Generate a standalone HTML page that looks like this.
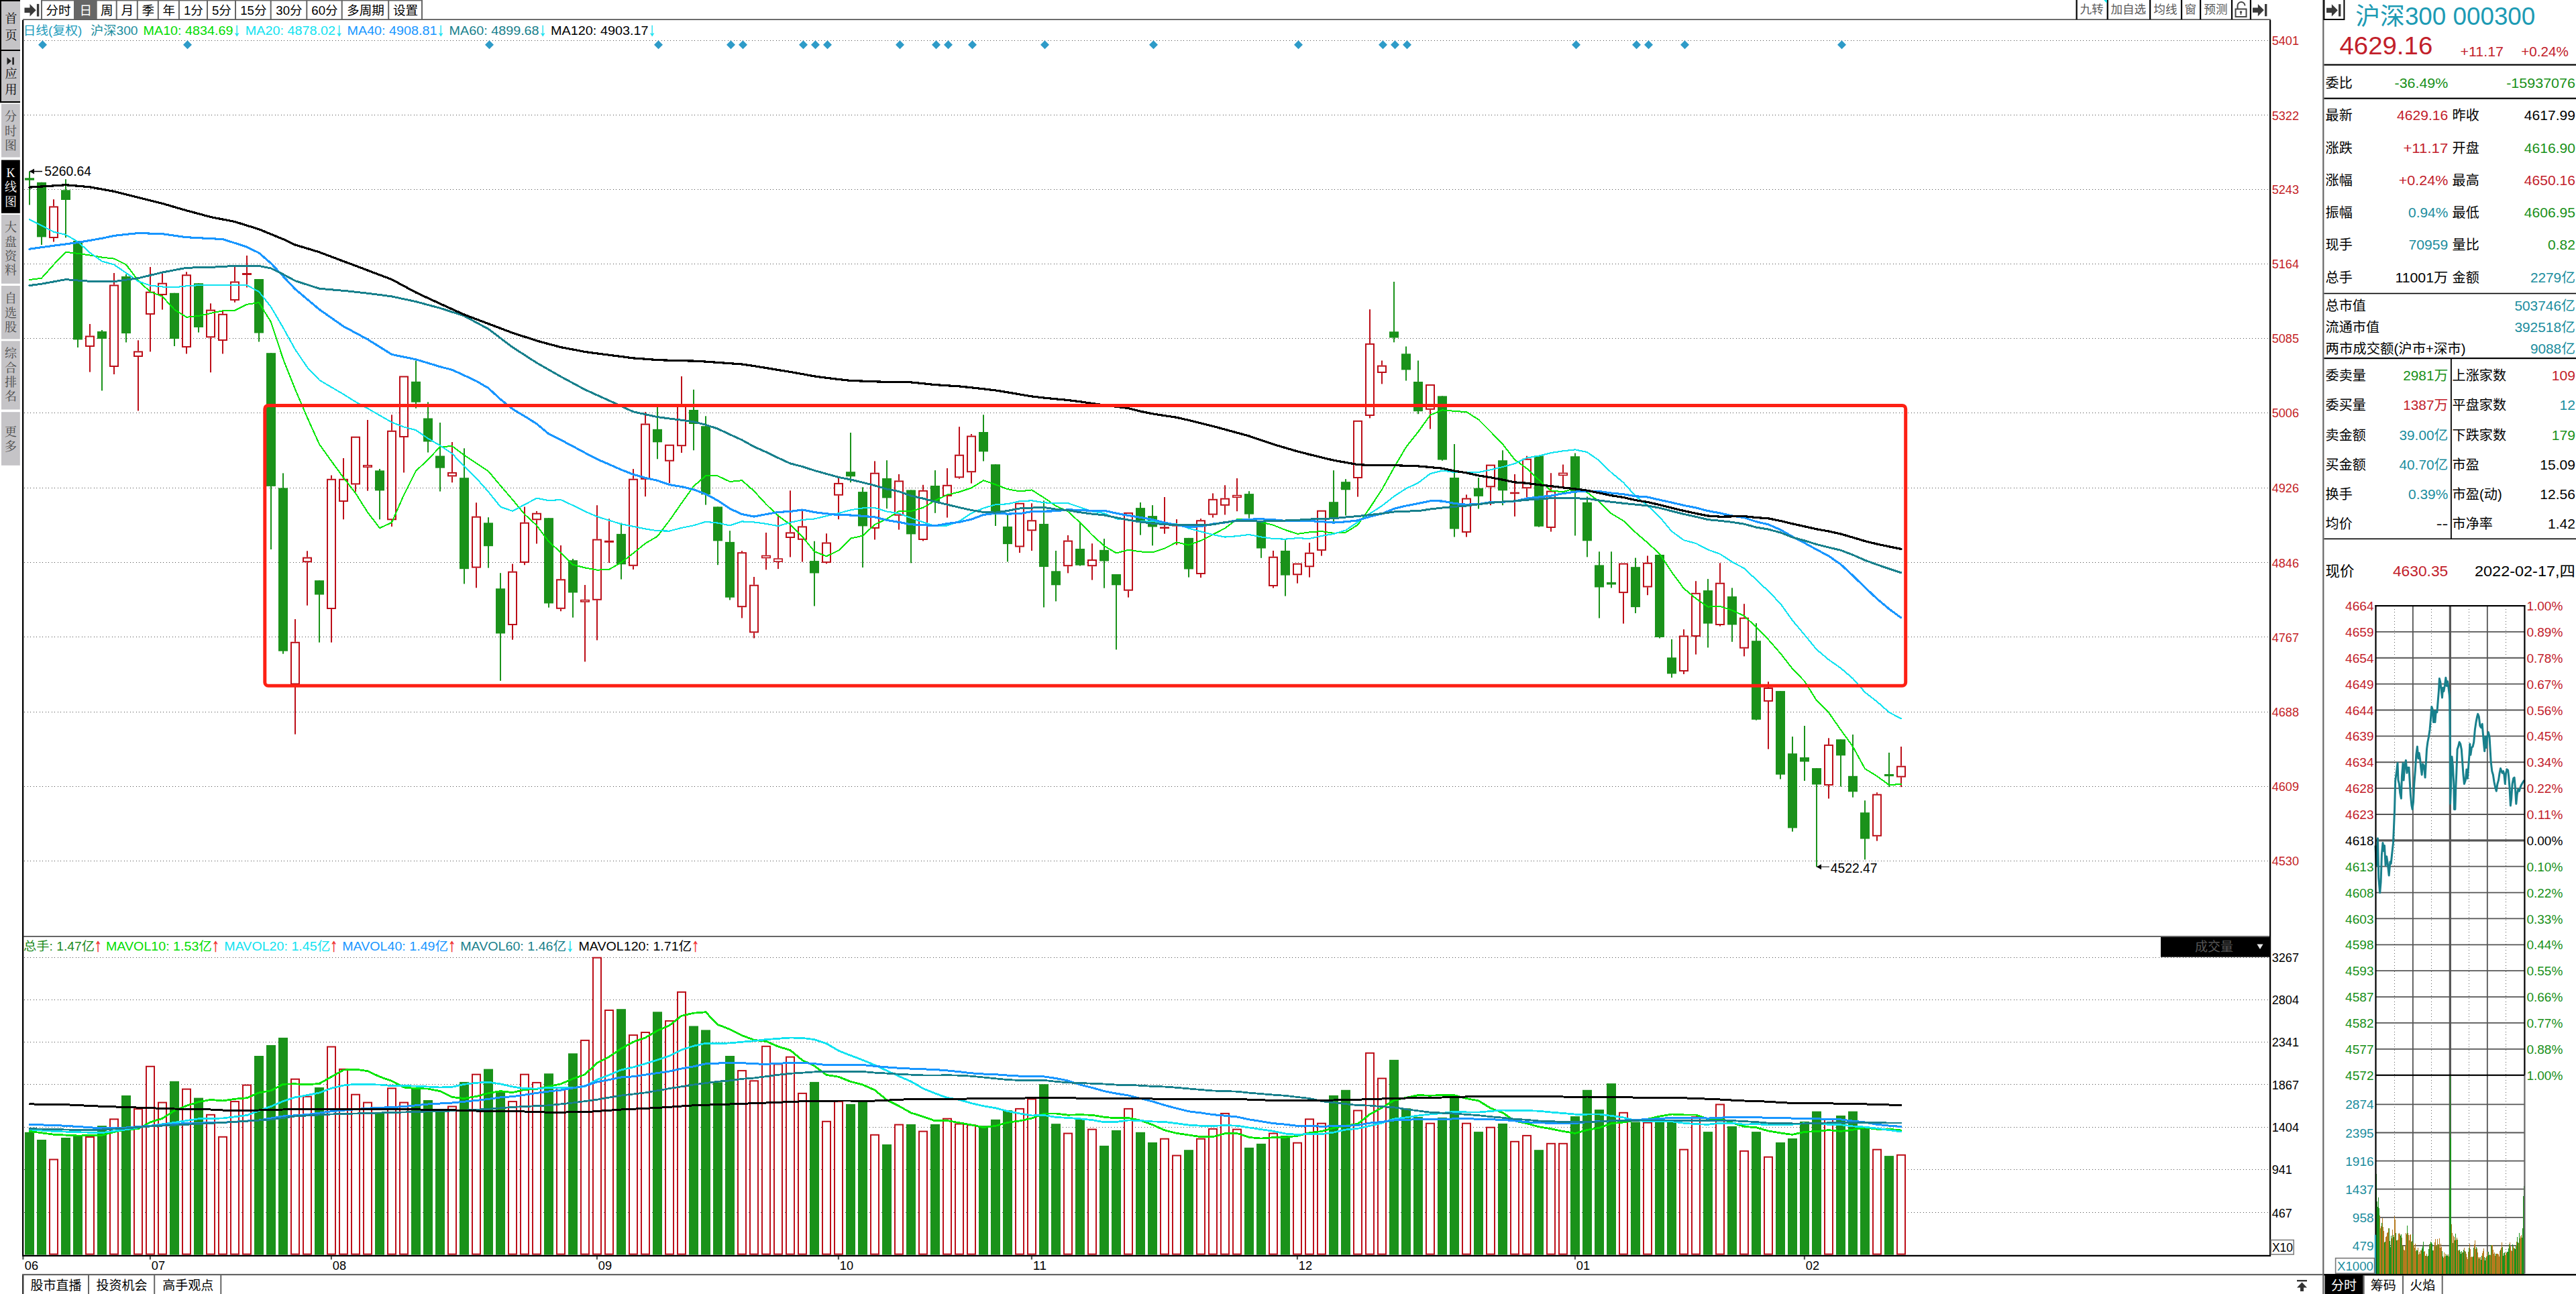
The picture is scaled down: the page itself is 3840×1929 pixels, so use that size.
<!DOCTYPE html><html><head><meta charset="utf-8"><title>沪深300</title><style>html,body{margin:0;padding:0;background:#fff}svg{display:block}</style></head><body><svg width="3840" height="1929" viewBox="0 0 3840 1929" font-family='"Liberation Sans","Noto Sans CJK SC",sans-serif'>
<rect x="0.00" y="0.00" width="3840.00" height="1929.00" fill="#fff" />
<line x1="36.00" y1="60.50" x2="3382.00" y2="60.50" stroke="#4c4c4c" stroke-width="1" stroke-dasharray="1 3.5" shape-rendering="crispEdges"/>
<text x="3386.7" y="67.4" font-size="18" fill="#c41e25" text-anchor="start" textLength="40.3" lengthAdjust="spacingAndGlyphs" >5401</text>
<line x1="36.00" y1="171.50" x2="3382.00" y2="171.50" stroke="#4c4c4c" stroke-width="1" stroke-dasharray="1 3.5" shape-rendering="crispEdges"/>
<text x="3386.7" y="178.5" font-size="18" fill="#c41e25" text-anchor="start" textLength="40.3" lengthAdjust="spacingAndGlyphs" >5322</text>
<line x1="36.00" y1="282.50" x2="3382.00" y2="282.50" stroke="#4c4c4c" stroke-width="1" stroke-dasharray="1 3.5" shape-rendering="crispEdges"/>
<text x="3386.7" y="289.3" font-size="18" fill="#c41e25" text-anchor="start" textLength="40.3" lengthAdjust="spacingAndGlyphs" >5243</text>
<line x1="36.00" y1="393.50" x2="3382.00" y2="393.50" stroke="#4c4c4c" stroke-width="1" stroke-dasharray="1 3.5" shape-rendering="crispEdges"/>
<text x="3386.7" y="400.3" font-size="18" fill="#c41e25" text-anchor="start" textLength="40.3" lengthAdjust="spacingAndGlyphs" >5164</text>
<line x1="36.00" y1="504.50" x2="3382.00" y2="504.50" stroke="#4c4c4c" stroke-width="1" stroke-dasharray="1 3.5" shape-rendering="crispEdges"/>
<text x="3386.7" y="511.2" font-size="18" fill="#c41e25" text-anchor="start" textLength="40.3" lengthAdjust="spacingAndGlyphs" >5085</text>
<line x1="36.00" y1="615.50" x2="3382.00" y2="615.50" stroke="#4c4c4c" stroke-width="1" stroke-dasharray="1 3.5" shape-rendering="crispEdges"/>
<text x="3386.7" y="622.2" font-size="18" fill="#c41e25" text-anchor="start" textLength="40.3" lengthAdjust="spacingAndGlyphs" >5006</text>
<line x1="36.00" y1="727.50" x2="3382.00" y2="727.50" stroke="#4c4c4c" stroke-width="1" stroke-dasharray="1 3.5" shape-rendering="crispEdges"/>
<text x="3386.7" y="734.3" font-size="18" fill="#c41e25" text-anchor="start" textLength="40.3" lengthAdjust="spacingAndGlyphs" >4926</text>
<line x1="36.00" y1="838.50" x2="3382.00" y2="838.50" stroke="#4c4c4c" stroke-width="1" stroke-dasharray="1 3.5" shape-rendering="crispEdges"/>
<text x="3386.7" y="845.7" font-size="18" fill="#c41e25" text-anchor="start" textLength="40.3" lengthAdjust="spacingAndGlyphs" >4846</text>
<line x1="36.00" y1="949.50" x2="3382.00" y2="949.50" stroke="#4c4c4c" stroke-width="1" stroke-dasharray="1 3.5" shape-rendering="crispEdges"/>
<text x="3386.7" y="956.9" font-size="18" fill="#c41e25" text-anchor="start" textLength="40.3" lengthAdjust="spacingAndGlyphs" >4767</text>
<line x1="36.00" y1="1061.50" x2="3382.00" y2="1061.50" stroke="#4c4c4c" stroke-width="1" stroke-dasharray="1 3.5" shape-rendering="crispEdges"/>
<text x="3386.7" y="1068.1" font-size="18" fill="#c41e25" text-anchor="start" textLength="40.3" lengthAdjust="spacingAndGlyphs" >4688</text>
<line x1="36.00" y1="1172.50" x2="3382.00" y2="1172.50" stroke="#4c4c4c" stroke-width="1" stroke-dasharray="1 3.5" shape-rendering="crispEdges"/>
<text x="3386.7" y="1179.3" font-size="18" fill="#c41e25" text-anchor="start" textLength="40.3" lengthAdjust="spacingAndGlyphs" >4609</text>
<line x1="36.00" y1="1283.50" x2="3382.00" y2="1283.50" stroke="#4c4c4c" stroke-width="1" stroke-dasharray="1 3.5" shape-rendering="crispEdges"/>
<text x="3386.7" y="1290.2" font-size="18" fill="#c41e25" text-anchor="start" textLength="40.3" lengthAdjust="spacingAndGlyphs" >4530</text>
<line x1="36.00" y1="1427.50" x2="3382.00" y2="1427.50" stroke="#4c4c4c" stroke-width="1" stroke-dasharray="1 3.5" shape-rendering="crispEdges"/>
<text x="3386.7" y="1434.1" font-size="18" fill="#000" text-anchor="start" textLength="40.3" lengthAdjust="spacingAndGlyphs" >3267</text>
<line x1="36.00" y1="1490.50" x2="3382.00" y2="1490.50" stroke="#4c4c4c" stroke-width="1" stroke-dasharray="1 3.5" shape-rendering="crispEdges"/>
<text x="3386.7" y="1497.2" font-size="18" fill="#000" text-anchor="start" textLength="40.3" lengthAdjust="spacingAndGlyphs" >2804</text>
<line x1="36.00" y1="1553.50" x2="3382.00" y2="1553.50" stroke="#4c4c4c" stroke-width="1" stroke-dasharray="1 3.5" shape-rendering="crispEdges"/>
<text x="3386.7" y="1560.4" font-size="18" fill="#000" text-anchor="start" textLength="40.3" lengthAdjust="spacingAndGlyphs" >2341</text>
<line x1="36.00" y1="1616.50" x2="3382.00" y2="1616.50" stroke="#4c4c4c" stroke-width="1" stroke-dasharray="1 3.5" shape-rendering="crispEdges"/>
<text x="3386.7" y="1623.7" font-size="18" fill="#000" text-anchor="start" textLength="40.3" lengthAdjust="spacingAndGlyphs" >1867</text>
<line x1="36.00" y1="1680.50" x2="3382.00" y2="1680.50" stroke="#4c4c4c" stroke-width="1" stroke-dasharray="1 3.5" shape-rendering="crispEdges"/>
<text x="3386.7" y="1687.0" font-size="18" fill="#000" text-anchor="start" textLength="40.3" lengthAdjust="spacingAndGlyphs" >1404</text>
<line x1="36.00" y1="1743.50" x2="3382.00" y2="1743.50" stroke="#4c4c4c" stroke-width="1" stroke-dasharray="1 3.5" shape-rendering="crispEdges"/>
<text x="3386.7" y="1750.2" font-size="18" fill="#000" text-anchor="start" textLength="30.2" lengthAdjust="spacingAndGlyphs" >941</text>
<line x1="36.00" y1="1807.50" x2="3382.00" y2="1807.50" stroke="#4c4c4c" stroke-width="1" stroke-dasharray="1 3.5" shape-rendering="crispEdges"/>
<text x="3386.7" y="1814.5" font-size="18" fill="#000" text-anchor="start" textLength="30.2" lengthAdjust="spacingAndGlyphs" >467</text>
<path d="M57.0 66.7L63.5 60.2L70.0 66.7L63.5 73.2Z" fill="#2e9bc8"/>
<path d="M273.0 66.7L279.5 60.2L286.0 66.7L279.5 73.2Z" fill="#2e9bc8"/>
<path d="M723.0 66.7L729.5 60.2L736.0 66.7L729.5 73.2Z" fill="#2e9bc8"/>
<path d="M975.0 66.7L981.5 60.2L988.0 66.7L981.5 73.2Z" fill="#2e9bc8"/>
<path d="M1083.0 66.7L1089.5 60.2L1096.0 66.7L1089.5 73.2Z" fill="#2e9bc8"/>
<path d="M1101.0 66.7L1107.5 60.2L1114.0 66.7L1107.5 73.2Z" fill="#2e9bc8"/>
<path d="M1191.0 66.7L1197.5 60.2L1204.0 66.7L1197.5 73.2Z" fill="#2e9bc8"/>
<path d="M1209.0 66.7L1215.5 60.2L1222.0 66.7L1215.5 73.2Z" fill="#2e9bc8"/>
<path d="M1227.0 66.7L1233.5 60.2L1240.0 66.7L1233.5 73.2Z" fill="#2e9bc8"/>
<path d="M1335.0 66.7L1341.5 60.2L1348.0 66.7L1341.5 73.2Z" fill="#2e9bc8"/>
<path d="M1389.0 66.7L1395.5 60.2L1402.0 66.7L1395.5 73.2Z" fill="#2e9bc8"/>
<path d="M1407.0 66.7L1413.5 60.2L1420.0 66.7L1413.5 73.2Z" fill="#2e9bc8"/>
<path d="M1443.0 66.7L1449.5 60.2L1456.0 66.7L1449.5 73.2Z" fill="#2e9bc8"/>
<path d="M1551.0 66.7L1557.5 60.2L1564.0 66.7L1557.5 73.2Z" fill="#2e9bc8"/>
<path d="M1713.0 66.7L1719.5 60.2L1726.0 66.7L1719.5 73.2Z" fill="#2e9bc8"/>
<path d="M1929.0 66.7L1935.5 60.2L1942.0 66.7L1935.5 73.2Z" fill="#2e9bc8"/>
<path d="M2055.0 66.7L2061.5 60.2L2068.0 66.7L2061.5 73.2Z" fill="#2e9bc8"/>
<path d="M2073.0 66.7L2079.5 60.2L2086.0 66.7L2079.5 73.2Z" fill="#2e9bc8"/>
<path d="M2091.0 66.7L2097.5 60.2L2104.0 66.7L2097.5 73.2Z" fill="#2e9bc8"/>
<path d="M2343.0 66.7L2349.5 60.2L2356.0 66.7L2349.5 73.2Z" fill="#2e9bc8"/>
<path d="M2433.0 66.7L2439.5 60.2L2446.0 66.7L2439.5 73.2Z" fill="#2e9bc8"/>
<path d="M2451.0 66.7L2457.5 60.2L2464.0 66.7L2457.5 73.2Z" fill="#2e9bc8"/>
<path d="M2505.0 66.7L2511.5 60.2L2518.0 66.7L2511.5 73.2Z" fill="#2e9bc8"/>
<path d="M2739.0 66.7L2745.5 60.2L2752.0 66.7L2745.5 73.2Z" fill="#2e9bc8"/>
<rect x="43.00" y="255.50" width="2.00" height="50.00" fill="#1a921a" />
<rect x="37.00" y="265.30" width="14.00" height="3.40" fill="#1a921a" />
<rect x="61.00" y="271.80" width="2.00" height="93.20" fill="#1a921a" />
<rect x="55.00" y="271.80" width="14.00" height="81.60" fill="#1a921a" />
<rect x="79.00" y="297.20" width="2.00" height="10.20" fill="#bc0e18" />
<rect x="79.00" y="355.00" width="2.00" height="5.50" fill="#bc0e18" />
<rect x="74.0" y="308.4" width="12" height="45.6" fill="#fff" stroke="#bc0e18" stroke-width="2"/>
<rect x="97.00" y="267.20" width="2.00" height="87.10" fill="#1a921a" />
<rect x="91.00" y="283.30" width="14.00" height="14.70" fill="#1a921a" />
<rect x="115.00" y="359.00" width="2.00" height="159.00" fill="#1a921a" />
<rect x="109.00" y="359.00" width="14.00" height="147.40" fill="#1a921a" />
<rect x="133.00" y="483.00" width="2.00" height="17.50" fill="#bc0e18" />
<rect x="133.00" y="517.00" width="2.00" height="37.60" fill="#bc0e18" />
<rect x="128.0" y="501.5" width="12" height="14.5" fill="#fff" stroke="#bc0e18" stroke-width="2"/>
<rect x="151.00" y="492.00" width="2.00" height="90.40" fill="#1a921a" />
<rect x="145.00" y="494.00" width="14.00" height="11.00" fill="#1a921a" />
<rect x="169.00" y="407.00" width="2.00" height="17.50" fill="#bc0e18" />
<rect x="169.00" y="547.00" width="2.00" height="11.00" fill="#bc0e18" />
<rect x="164.0" y="425.5" width="12" height="120.5" fill="#fff" stroke="#bc0e18" stroke-width="2"/>
<rect x="187.00" y="409.00" width="2.00" height="101.40" fill="#1a921a" />
<rect x="181.00" y="412.00" width="14.00" height="85.00" fill="#1a921a" />
<rect x="205.00" y="507.30" width="2.00" height="16.10" fill="#bc0e18" />
<rect x="205.00" y="532.00" width="2.00" height="80.40" fill="#bc0e18" />
<rect x="200.0" y="524.4" width="12" height="6.6" fill="#fff" stroke="#bc0e18" stroke-width="2"/>
<rect x="223.00" y="398.00" width="2.00" height="36.70" fill="#bc0e18" />
<rect x="223.00" y="469.00" width="2.00" height="55.30" fill="#bc0e18" />
<rect x="218.0" y="435.7" width="12" height="32.3" fill="#fff" stroke="#bc0e18" stroke-width="2"/>
<rect x="241.00" y="405.30" width="2.00" height="16.40" fill="#bc0e18" />
<rect x="241.00" y="440.00" width="2.00" height="21.60" fill="#bc0e18" />
<rect x="236.0" y="422.7" width="12" height="16.3" fill="#fff" stroke="#bc0e18" stroke-width="2"/>
<rect x="259.00" y="436.80" width="2.00" height="79.20" fill="#1a921a" />
<rect x="253.00" y="436.80" width="14.00" height="68.20" fill="#1a921a" />
<rect x="277.00" y="405.30" width="2.00" height="4.00" fill="#bc0e18" />
<rect x="277.00" y="518.00" width="2.00" height="9.40" fill="#bc0e18" />
<rect x="272.0" y="410.3" width="12" height="106.7" fill="#fff" stroke="#bc0e18" stroke-width="2"/>
<rect x="295.00" y="422.30" width="2.00" height="73.30" fill="#1a921a" />
<rect x="289.00" y="422.30" width="14.00" height="65.70" fill="#1a921a" />
<rect x="313.00" y="452.30" width="2.00" height="9.30" fill="#bc0e18" />
<rect x="313.00" y="503.30" width="2.00" height="51.90" fill="#bc0e18" />
<rect x="308.0" y="462.6" width="12" height="39.7" fill="#fff" stroke="#bc0e18" stroke-width="2"/>
<rect x="331.00" y="462.00" width="2.00" height="5.80" fill="#bc0e18" />
<rect x="331.00" y="508.00" width="2.00" height="19.40" fill="#bc0e18" />
<rect x="326.0" y="468.8" width="12" height="38.2" fill="#fff" stroke="#bc0e18" stroke-width="2"/>
<rect x="349.00" y="397.60" width="2.00" height="21.90" fill="#bc0e18" />
<rect x="349.00" y="448.00" width="2.00" height="2.80" fill="#bc0e18" />
<rect x="344.0" y="420.5" width="12" height="26.5" fill="#fff" stroke="#bc0e18" stroke-width="2"/>
<rect x="367.00" y="381.00" width="2.00" height="26.00" fill="#bc0e18" />
<rect x="367.00" y="410.00" width="2.00" height="18.50" fill="#bc0e18" />
<rect x="361.00" y="407.00" width="14.00" height="3.00" fill="#bc0e18" />
<rect x="385.00" y="416.00" width="2.00" height="93.50" fill="#1a921a" />
<rect x="379.00" y="416.00" width="14.00" height="80.50" fill="#1a921a" />
<rect x="403.00" y="526.20" width="2.00" height="292.80" fill="#1a921a" />
<rect x="397.00" y="526.20" width="14.00" height="198.70" fill="#1a921a" />
<rect x="421.00" y="705.40" width="2.00" height="269.30" fill="#1a921a" />
<rect x="415.00" y="727.40" width="14.00" height="243.30" fill="#1a921a" />
<rect x="439.00" y="923.00" width="2.00" height="33.80" fill="#bc0e18" />
<rect x="439.00" y="1020.50" width="2.00" height="74.10" fill="#bc0e18" />
<rect x="434.0" y="957.8" width="12" height="61.7" fill="#fff" stroke="#bc0e18" stroke-width="2"/>
<rect x="457.00" y="821.30" width="2.00" height="9.30" fill="#bc0e18" />
<rect x="457.00" y="838.30" width="2.00" height="64.30" fill="#bc0e18" />
<rect x="452.0" y="831.6" width="12" height="5.7" fill="#fff" stroke="#bc0e18" stroke-width="2"/>
<rect x="475.00" y="865.20" width="2.00" height="92.50" fill="#1a921a" />
<rect x="469.00" y="865.20" width="14.00" height="21.30" fill="#1a921a" />
<rect x="493.00" y="708.50" width="2.00" height="5.30" fill="#bc0e18" />
<rect x="493.00" y="908.00" width="2.00" height="49.70" fill="#bc0e18" />
<rect x="488.0" y="714.8" width="12" height="192.2" fill="#fff" stroke="#bc0e18" stroke-width="2"/>
<rect x="511.00" y="683.00" width="2.00" height="30.80" fill="#bc0e18" />
<rect x="511.00" y="748.00" width="2.00" height="26.30" fill="#bc0e18" />
<rect x="506.0" y="714.8" width="12" height="32.2" fill="#fff" stroke="#bc0e18" stroke-width="2"/>
<rect x="529.00" y="722.40" width="2.00" height="10.60" fill="#bc0e18" />
<rect x="524.0" y="651.7" width="12" height="69.7" fill="#fff" stroke="#bc0e18" stroke-width="2"/>
<rect x="547.00" y="626.00" width="2.00" height="67.00" fill="#bc0e18" />
<rect x="547.00" y="697.00" width="2.00" height="34.70" fill="#bc0e18" />
<rect x="541.8" y="693.8" width="12.4" height="2.4" fill="#fff" stroke="#bc0e18" stroke-width="1.6"/>
<rect x="565.00" y="699.00" width="2.00" height="75.30" fill="#1a921a" />
<rect x="559.00" y="701.40" width="14.00" height="30.00" fill="#1a921a" />
<rect x="583.00" y="618.30" width="2.00" height="23.50" fill="#bc0e18" />
<rect x="583.00" y="775.30" width="2.00" height="9.70" fill="#bc0e18" />
<rect x="578.0" y="642.8" width="12" height="131.5" fill="#fff" stroke="#bc0e18" stroke-width="2"/>
<rect x="601.00" y="652.00" width="2.00" height="52.50" fill="#bc0e18" />
<rect x="596.0" y="561.5" width="12" height="89.5" fill="#fff" stroke="#bc0e18" stroke-width="2"/>
<rect x="619.00" y="537.60" width="2.00" height="71.10" fill="#1a921a" />
<rect x="613.00" y="568.80" width="14.00" height="30.90" fill="#1a921a" />
<rect x="637.00" y="599.40" width="2.00" height="75.10" fill="#1a921a" />
<rect x="631.00" y="623.50" width="14.00" height="34.90" fill="#1a921a" />
<rect x="655.00" y="630.00" width="2.00" height="102.60" fill="#1a921a" />
<rect x="649.00" y="679.50" width="14.00" height="18.20" fill="#1a921a" />
<rect x="673.00" y="659.00" width="2.00" height="44.90" fill="#bc0e18" />
<rect x="673.00" y="710.40" width="2.00" height="8.90" fill="#bc0e18" />
<rect x="668.0" y="704.9" width="12" height="4.5" fill="#fff" stroke="#bc0e18" stroke-width="2"/>
<rect x="691.00" y="668.30" width="2.00" height="202.10" fill="#1a921a" />
<rect x="685.00" y="712.20" width="14.00" height="136.00" fill="#1a921a" />
<rect x="709.00" y="749.30" width="2.00" height="20.40" fill="#bc0e18" />
<rect x="709.00" y="846.60" width="2.00" height="29.70" fill="#bc0e18" />
<rect x="704.0" y="770.7" width="12" height="74.9" fill="#fff" stroke="#bc0e18" stroke-width="2"/>
<rect x="727.00" y="771.20" width="2.00" height="75.40" fill="#1a921a" />
<rect x="721.00" y="779.30" width="14.00" height="34.90" fill="#1a921a" />
<rect x="745.00" y="854.20" width="2.00" height="160.70" fill="#1a921a" />
<rect x="739.00" y="877.30" width="14.00" height="67.10" fill="#1a921a" />
<rect x="763.00" y="840.60" width="2.00" height="11.10" fill="#bc0e18" />
<rect x="763.00" y="932.00" width="2.00" height="21.70" fill="#bc0e18" />
<rect x="758.0" y="852.7" width="12" height="78.3" fill="#fff" stroke="#bc0e18" stroke-width="2"/>
<rect x="781.00" y="755.50" width="2.00" height="23.20" fill="#bc0e18" />
<rect x="781.00" y="839.00" width="2.00" height="3.30" fill="#bc0e18" />
<rect x="776.0" y="779.7" width="12" height="58.3" fill="#fff" stroke="#bc0e18" stroke-width="2"/>
<rect x="799.00" y="762.00" width="2.00" height="2.70" fill="#bc0e18" />
<rect x="799.00" y="775.30" width="2.00" height="35.20" fill="#bc0e18" />
<rect x="794.0" y="765.7" width="12" height="8.6" fill="#fff" stroke="#bc0e18" stroke-width="2"/>
<rect x="817.00" y="772.20" width="2.00" height="133.50" fill="#1a921a" />
<rect x="811.00" y="772.20" width="14.00" height="127.30" fill="#1a921a" />
<rect x="835.00" y="813.00" width="2.00" height="50.30" fill="#bc0e18" />
<rect x="835.00" y="907.80" width="2.00" height="3.40" fill="#bc0e18" />
<rect x="830.0" y="864.3" width="12" height="42.5" fill="#fff" stroke="#bc0e18" stroke-width="2"/>
<rect x="853.00" y="833.00" width="2.00" height="87.60" fill="#1a921a" />
<rect x="847.00" y="835.20" width="14.00" height="48.30" fill="#1a921a" />
<rect x="871.00" y="872.00" width="2.00" height="21.80" fill="#bc0e18" />
<rect x="871.00" y="897.80" width="2.00" height="88.60" fill="#bc0e18" />
<rect x="865.8" y="894.6" width="12.4" height="2.4" fill="#fff" stroke="#bc0e18" stroke-width="1.6"/>
<rect x="889.00" y="753.20" width="2.00" height="50.40" fill="#bc0e18" />
<rect x="889.00" y="894.80" width="2.00" height="59.60" fill="#bc0e18" />
<rect x="884.0" y="804.6" width="12" height="89.2" fill="#fff" stroke="#bc0e18" stroke-width="2"/>
<rect x="907.00" y="773.30" width="2.00" height="32.50" fill="#bc0e18" />
<rect x="907.00" y="808.80" width="2.00" height="30.30" fill="#bc0e18" />
<rect x="901.00" y="805.80" width="14.00" height="3.00" fill="#bc0e18" />
<rect x="925.00" y="779.50" width="2.00" height="84.10" fill="#1a921a" />
<rect x="919.00" y="795.90" width="14.00" height="45.40" fill="#1a921a" />
<rect x="943.00" y="699.10" width="2.00" height="14.60" fill="#bc0e18" />
<rect x="943.00" y="843.80" width="2.00" height="5.20" fill="#bc0e18" />
<rect x="938.0" y="714.7" width="12" height="128.1" fill="#fff" stroke="#bc0e18" stroke-width="2"/>
<rect x="961.00" y="614.20" width="2.00" height="17.30" fill="#bc0e18" />
<rect x="961.00" y="714.90" width="2.00" height="25.30" fill="#bc0e18" />
<rect x="956.0" y="632.5" width="12" height="81.4" fill="#fff" stroke="#bc0e18" stroke-width="2"/>
<rect x="979.00" y="606.40" width="2.00" height="77.90" fill="#1a921a" />
<rect x="973.00" y="639.80" width="14.00" height="19.50" fill="#1a921a" />
<rect x="997.00" y="687.70" width="2.00" height="32.50" fill="#bc0e18" />
<rect x="992.0" y="663.7" width="12" height="23.0" fill="#fff" stroke="#bc0e18" stroke-width="2"/>
<rect x="1015.00" y="561.00" width="2.00" height="44.00" fill="#bc0e18" />
<rect x="1015.00" y="665.20" width="2.00" height="9.80" fill="#bc0e18" />
<rect x="1010.0" y="606.0" width="12" height="58.2" fill="#fff" stroke="#bc0e18" stroke-width="2"/>
<rect x="1033.00" y="580.80" width="2.00" height="90.50" fill="#1a921a" />
<rect x="1027.00" y="611.00" width="14.00" height="21.00" fill="#1a921a" />
<rect x="1051.00" y="620.30" width="2.00" height="132.30" fill="#1a921a" />
<rect x="1045.00" y="635.20" width="14.00" height="102.00" fill="#1a921a" />
<rect x="1069.00" y="755.40" width="2.00" height="86.80" fill="#1a921a" />
<rect x="1063.00" y="755.40" width="14.00" height="51.00" fill="#1a921a" />
<rect x="1087.00" y="791.20" width="2.00" height="103.30" fill="#1a921a" />
<rect x="1081.00" y="807.90" width="14.00" height="82.80" fill="#1a921a" />
<rect x="1105.00" y="821.20" width="2.00" height="2.00" fill="#bc0e18" />
<rect x="1105.00" y="905.20" width="2.00" height="16.20" fill="#bc0e18" />
<rect x="1100.0" y="824.2" width="12" height="80.0" fill="#fff" stroke="#bc0e18" stroke-width="2"/>
<rect x="1123.00" y="860.00" width="2.00" height="11.70" fill="#bc0e18" />
<rect x="1123.00" y="943.30" width="2.00" height="8.10" fill="#bc0e18" />
<rect x="1118.0" y="872.7" width="12" height="69.6" fill="#fff" stroke="#bc0e18" stroke-width="2"/>
<rect x="1141.00" y="794.00" width="2.00" height="33.70" fill="#bc0e18" />
<rect x="1141.00" y="832.30" width="2.00" height="17.00" fill="#bc0e18" />
<rect x="1135.8" y="828.5" width="12.4" height="3.0" fill="#fff" stroke="#bc0e18" stroke-width="1.6"/>
<rect x="1159.00" y="767.10" width="2.00" height="65.20" fill="#bc0e18" />
<rect x="1159.00" y="837.90" width="2.00" height="10.20" fill="#bc0e18" />
<rect x="1153.8" y="833.1" width="12.4" height="4.0" fill="#fff" stroke="#bc0e18" stroke-width="1.6"/>
<rect x="1177.00" y="731.30" width="2.00" height="62.10" fill="#bc0e18" />
<rect x="1177.00" y="802.00" width="2.00" height="28.50" fill="#bc0e18" />
<rect x="1172.0" y="794.4" width="12" height="6.6" fill="#fff" stroke="#bc0e18" stroke-width="2"/>
<rect x="1195.00" y="761.90" width="2.00" height="22.50" fill="#bc0e18" />
<rect x="1195.00" y="804.80" width="2.00" height="32.80" fill="#bc0e18" />
<rect x="1190.0" y="785.4" width="12" height="18.4" fill="#fff" stroke="#bc0e18" stroke-width="2"/>
<rect x="1213.00" y="806.70" width="2.00" height="96.80" fill="#1a921a" />
<rect x="1207.00" y="836.10" width="14.00" height="18.40" fill="#1a921a" />
<rect x="1231.00" y="795.30" width="2.00" height="13.20" fill="#bc0e18" />
<rect x="1231.00" y="839.10" width="2.00" height="1.30" fill="#bc0e18" />
<rect x="1226.0" y="809.5" width="12" height="28.6" fill="#fff" stroke="#bc0e18" stroke-width="2"/>
<rect x="1249.00" y="713.00" width="2.00" height="6.90" fill="#bc0e18" />
<rect x="1249.00" y="738.70" width="2.00" height="35.50" fill="#bc0e18" />
<rect x="1244.0" y="720.9" width="12" height="16.8" fill="#fff" stroke="#bc0e18" stroke-width="2"/>
<rect x="1267.00" y="645.00" width="2.00" height="74.20" fill="#1a921a" />
<rect x="1261.00" y="703.20" width="14.00" height="7.10" fill="#1a921a" />
<rect x="1285.00" y="726.30" width="2.00" height="119.70" fill="#1a921a" />
<rect x="1279.00" y="733.10" width="14.00" height="51.30" fill="#1a921a" />
<rect x="1303.00" y="687.40" width="2.00" height="17.30" fill="#bc0e18" />
<rect x="1303.00" y="788.00" width="2.00" height="16.50" fill="#bc0e18" />
<rect x="1298.0" y="705.7" width="12" height="81.3" fill="#fff" stroke="#bc0e18" stroke-width="2"/>
<rect x="1321.00" y="686.20" width="2.00" height="72.00" fill="#1a921a" />
<rect x="1315.00" y="713.00" width="14.00" height="29.40" fill="#1a921a" />
<rect x="1339.00" y="706.90" width="2.00" height="9.50" fill="#bc0e18" />
<rect x="1339.00" y="768.70" width="2.00" height="20.90" fill="#bc0e18" />
<rect x="1334.0" y="717.4" width="12" height="50.3" fill="#fff" stroke="#bc0e18" stroke-width="2"/>
<rect x="1357.00" y="730.50" width="2.00" height="108.90" fill="#1a921a" />
<rect x="1351.00" y="730.50" width="14.00" height="65.90" fill="#1a921a" />
<rect x="1375.00" y="722.80" width="2.00" height="8.00" fill="#bc0e18" />
<rect x="1375.00" y="805.00" width="2.00" height="1.50" fill="#bc0e18" />
<rect x="1370.0" y="731.8" width="12" height="72.2" fill="#fff" stroke="#bc0e18" stroke-width="2"/>
<rect x="1393.00" y="701.10" width="2.00" height="63.70" fill="#1a921a" />
<rect x="1387.00" y="724.00" width="14.00" height="24.40" fill="#1a921a" />
<rect x="1411.00" y="698.00" width="2.00" height="24.80" fill="#bc0e18" />
<rect x="1411.00" y="739.80" width="2.00" height="31.80" fill="#bc0e18" />
<rect x="1406.0" y="723.8" width="12" height="15.0" fill="#fff" stroke="#bc0e18" stroke-width="2"/>
<rect x="1429.00" y="636.20" width="2.00" height="41.50" fill="#bc0e18" />
<rect x="1429.00" y="712.30" width="2.00" height="1.50" fill="#bc0e18" />
<rect x="1424.0" y="678.7" width="12" height="32.6" fill="#fff" stroke="#bc0e18" stroke-width="2"/>
<rect x="1447.00" y="647.00" width="2.00" height="2.50" fill="#bc0e18" />
<rect x="1447.00" y="704.20" width="2.00" height="16.40" fill="#bc0e18" />
<rect x="1442.0" y="650.5" width="12" height="52.7" fill="#fff" stroke="#bc0e18" stroke-width="2"/>
<rect x="1465.00" y="618.30" width="2.00" height="69.20" fill="#1a921a" />
<rect x="1459.00" y="644.00" width="14.00" height="29.30" fill="#1a921a" />
<rect x="1483.00" y="692.20" width="2.00" height="91.80" fill="#1a921a" />
<rect x="1477.00" y="692.20" width="14.00" height="73.20" fill="#1a921a" />
<rect x="1501.00" y="765.40" width="2.00" height="72.00" fill="#1a921a" />
<rect x="1495.00" y="784.90" width="14.00" height="26.20" fill="#1a921a" />
<rect x="1519.00" y="815.50" width="2.00" height="8.60" fill="#bc0e18" />
<rect x="1514.0" y="750.7" width="12" height="63.8" fill="#fff" stroke="#bc0e18" stroke-width="2"/>
<rect x="1537.00" y="750.30" width="2.00" height="25.00" fill="#bc0e18" />
<rect x="1537.00" y="791.40" width="2.00" height="29.60" fill="#bc0e18" />
<rect x="1532.0" y="776.3" width="12" height="14.1" fill="#fff" stroke="#bc0e18" stroke-width="2"/>
<rect x="1555.00" y="746.30" width="2.00" height="159.10" fill="#1a921a" />
<rect x="1549.00" y="780.90" width="14.00" height="64.20" fill="#1a921a" />
<rect x="1573.00" y="821.00" width="2.00" height="75.40" fill="#1a921a" />
<rect x="1567.00" y="851.30" width="14.00" height="21.00" fill="#1a921a" />
<rect x="1591.00" y="797.90" width="2.00" height="7.70" fill="#bc0e18" />
<rect x="1591.00" y="844.20" width="2.00" height="10.20" fill="#bc0e18" />
<rect x="1586.0" y="806.6" width="12" height="36.6" fill="#fff" stroke="#bc0e18" stroke-width="2"/>
<rect x="1609.00" y="777.80" width="2.00" height="65.80" fill="#1a921a" />
<rect x="1603.00" y="818.00" width="14.00" height="24.70" fill="#1a921a" />
<rect x="1627.00" y="810.20" width="2.00" height="23.80" fill="#bc0e18" />
<rect x="1627.00" y="844.20" width="2.00" height="20.40" fill="#bc0e18" />
<rect x="1622.0" y="835.0" width="12" height="8.2" fill="#fff" stroke="#bc0e18" stroke-width="2"/>
<rect x="1645.00" y="803.10" width="2.00" height="73.60" fill="#1a921a" />
<rect x="1639.00" y="819.80" width="14.00" height="16.70" fill="#1a921a" />
<rect x="1663.00" y="856.00" width="2.00" height="112.40" fill="#1a921a" />
<rect x="1657.00" y="856.00" width="14.00" height="16.30" fill="#1a921a" />
<rect x="1681.00" y="880.70" width="2.00" height="9.90" fill="#bc0e18" />
<rect x="1676.0" y="764.9" width="12" height="114.8" fill="#fff" stroke="#bc0e18" stroke-width="2"/>
<rect x="1699.00" y="749.00" width="2.00" height="48.60" fill="#1a921a" />
<rect x="1693.00" y="757.10" width="14.00" height="19.10" fill="#1a921a" />
<rect x="1717.00" y="753.10" width="2.00" height="60.20" fill="#1a921a" />
<rect x="1711.00" y="769.10" width="14.00" height="16.40" fill="#1a921a" />
<rect x="1735.00" y="741.00" width="2.00" height="44.50" fill="#bc0e18" />
<rect x="1735.00" y="788.00" width="2.00" height="7.70" fill="#bc0e18" />
<rect x="1729.00" y="785.50" width="14.00" height="2.50" fill="#bc0e18" />
<rect x="1753.00" y="774.10" width="2.00" height="6.90" fill="#bc0e18" />
<rect x="1753.00" y="784.60" width="2.00" height="27.80" fill="#bc0e18" />
<rect x="1747.8" y="781.8" width="12.4" height="2.0" fill="#fff" stroke="#bc0e18" stroke-width="1.6"/>
<rect x="1771.00" y="801.90" width="2.00" height="58.70" fill="#1a921a" />
<rect x="1765.00" y="801.90" width="14.00" height="46.60" fill="#1a921a" />
<rect x="1789.00" y="773.10" width="2.00" height="2.20" fill="#bc0e18" />
<rect x="1789.00" y="856.00" width="2.00" height="5.20" fill="#bc0e18" />
<rect x="1784.0" y="776.3" width="12" height="78.7" fill="#fff" stroke="#bc0e18" stroke-width="2"/>
<rect x="1807.00" y="735.40" width="2.00" height="8.40" fill="#bc0e18" />
<rect x="1807.00" y="767.60" width="2.00" height="4.00" fill="#bc0e18" />
<rect x="1802.0" y="744.8" width="12" height="21.8" fill="#fff" stroke="#bc0e18" stroke-width="2"/>
<rect x="1825.00" y="723.30" width="2.00" height="19.30" fill="#bc0e18" />
<rect x="1825.00" y="753.80" width="2.00" height="13.60" fill="#bc0e18" />
<rect x="1820.0" y="743.6" width="12" height="9.2" fill="#fff" stroke="#bc0e18" stroke-width="2"/>
<rect x="1843.00" y="713.00" width="2.00" height="24.80" fill="#bc0e18" />
<rect x="1843.00" y="742.10" width="2.00" height="20.10" fill="#bc0e18" />
<rect x="1837.8" y="738.6" width="12.4" height="2.7" fill="#fff" stroke="#bc0e18" stroke-width="1.6"/>
<rect x="1861.00" y="732.20" width="2.00" height="40.40" fill="#1a921a" />
<rect x="1855.00" y="736.10" width="14.00" height="30.50" fill="#1a921a" />
<rect x="1879.00" y="776.00" width="2.00" height="55.80" fill="#1a921a" />
<rect x="1873.00" y="777.50" width="14.00" height="40.00" fill="#1a921a" />
<rect x="1897.00" y="820.90" width="2.00" height="8.80" fill="#bc0e18" />
<rect x="1897.00" y="874.00" width="2.00" height="2.60" fill="#bc0e18" />
<rect x="1892.0" y="830.7" width="12" height="42.3" fill="#fff" stroke="#bc0e18" stroke-width="2"/>
<rect x="1915.00" y="805.20" width="2.00" height="83.40" fill="#1a921a" />
<rect x="1909.00" y="820.90" width="14.00" height="36.70" fill="#1a921a" />
<rect x="1933.00" y="857.30" width="2.00" height="12.30" fill="#bc0e18" />
<rect x="1928.0" y="840.7" width="12" height="15.6" fill="#fff" stroke="#bc0e18" stroke-width="2"/>
<rect x="1951.00" y="809.10" width="2.00" height="14.60" fill="#bc0e18" />
<rect x="1951.00" y="845.30" width="2.00" height="15.30" fill="#bc0e18" />
<rect x="1946.0" y="824.7" width="12" height="19.6" fill="#fff" stroke="#bc0e18" stroke-width="2"/>
<rect x="1969.00" y="820.90" width="2.00" height="7.70" fill="#bc0e18" />
<rect x="1964.0" y="761.7" width="12" height="58.2" fill="#fff" stroke="#bc0e18" stroke-width="2"/>
<rect x="1987.00" y="701.20" width="2.00" height="76.40" fill="#1a921a" />
<rect x="1981.00" y="748.20" width="14.00" height="24.50" fill="#1a921a" />
<rect x="2005.00" y="714.20" width="2.00" height="54.30" fill="#1a921a" />
<rect x="1999.00" y="718.20" width="14.00" height="12.10" fill="#1a921a" />
<rect x="2023.00" y="713.00" width="2.00" height="27.60" fill="#bc0e18" />
<rect x="2018.0" y="627.8" width="12" height="84.2" fill="#fff" stroke="#bc0e18" stroke-width="2"/>
<rect x="2041.00" y="461.20" width="2.00" height="50.70" fill="#bc0e18" />
<rect x="2041.00" y="620.00" width="2.00" height="3.40" fill="#bc0e18" />
<rect x="2036.0" y="512.9" width="12" height="106.1" fill="#fff" stroke="#bc0e18" stroke-width="2"/>
<rect x="2059.00" y="537.50" width="2.00" height="7.10" fill="#bc0e18" />
<rect x="2059.00" y="556.00" width="2.00" height="16.40" fill="#bc0e18" />
<rect x="2054.0" y="545.6" width="12" height="9.4" fill="#fff" stroke="#bc0e18" stroke-width="2"/>
<rect x="2077.00" y="420.00" width="2.00" height="90.30" fill="#1a921a" />
<rect x="2071.00" y="494.30" width="14.00" height="9.20" fill="#1a921a" />
<rect x="2095.00" y="516.50" width="2.00" height="51.00" fill="#1a921a" />
<rect x="2089.00" y="527.30" width="14.00" height="24.10" fill="#1a921a" />
<rect x="2113.00" y="537.50" width="2.00" height="79.70" fill="#1a921a" />
<rect x="2107.00" y="569.00" width="14.00" height="44.20" fill="#1a921a" />
<rect x="2131.00" y="610.80" width="2.00" height="28.70" fill="#bc0e18" />
<rect x="2126.0" y="574.0" width="12" height="35.8" fill="#fff" stroke="#bc0e18" stroke-width="2"/>
<rect x="2149.00" y="590.40" width="2.00" height="96.40" fill="#1a921a" />
<rect x="2143.00" y="590.40" width="14.00" height="95.10" fill="#1a921a" />
<rect x="2167.00" y="662.00" width="2.00" height="138.50" fill="#1a921a" />
<rect x="2161.00" y="712.00" width="14.00" height="76.50" fill="#1a921a" />
<rect x="2185.00" y="737.40" width="2.00" height="5.10" fill="#bc0e18" />
<rect x="2185.00" y="794.00" width="2.00" height="6.50" fill="#bc0e18" />
<rect x="2180.0" y="743.5" width="12" height="49.5" fill="#fff" stroke="#bc0e18" stroke-width="2"/>
<rect x="2203.00" y="712.10" width="2.00" height="46.40" fill="#1a921a" />
<rect x="2197.00" y="727.60" width="14.00" height="12.30" fill="#1a921a" />
<rect x="2221.00" y="726.30" width="2.00" height="26.90" fill="#bc0e18" />
<rect x="2216.0" y="693.6" width="12" height="31.7" fill="#fff" stroke="#bc0e18" stroke-width="2"/>
<rect x="2239.00" y="671.30" width="2.00" height="81.90" fill="#1a921a" />
<rect x="2233.00" y="686.20" width="14.00" height="45.10" fill="#1a921a" />
<rect x="2257.00" y="706.90" width="2.00" height="26.80" fill="#bc0e18" />
<rect x="2257.00" y="736.20" width="2.00" height="33.70" fill="#bc0e18" />
<rect x="2251.00" y="733.70" width="14.00" height="2.50" fill="#bc0e18" />
<rect x="2275.00" y="679.70" width="2.00" height="4.00" fill="#bc0e18" />
<rect x="2275.00" y="728.20" width="2.00" height="13.30" fill="#bc0e18" />
<rect x="2270.0" y="684.7" width="12" height="42.5" fill="#fff" stroke="#bc0e18" stroke-width="2"/>
<rect x="2293.00" y="679.40" width="2.00" height="106.30" fill="#1a921a" />
<rect x="2287.00" y="679.40" width="14.00" height="105.40" fill="#1a921a" />
<rect x="2311.00" y="705.20" width="2.00" height="26.40" fill="#bc0e18" />
<rect x="2311.00" y="787.00" width="2.00" height="5.60" fill="#bc0e18" />
<rect x="2306.0" y="732.6" width="12" height="53.4" fill="#fff" stroke="#bc0e18" stroke-width="2"/>
<rect x="2329.00" y="692.50" width="2.00" height="12.10" fill="#bc0e18" />
<rect x="2329.00" y="709.20" width="2.00" height="17.30" fill="#bc0e18" />
<rect x="2323.8" y="705.4" width="12.4" height="3.0" fill="#fff" stroke="#bc0e18" stroke-width="1.6"/>
<rect x="2347.00" y="675.50" width="2.00" height="123.00" fill="#1a921a" />
<rect x="2341.00" y="680.20" width="14.00" height="52.80" fill="#1a921a" />
<rect x="2365.00" y="740.40" width="2.00" height="90.00" fill="#1a921a" />
<rect x="2359.00" y="748.80" width="14.00" height="57.50" fill="#1a921a" />
<rect x="2383.00" y="822.30" width="2.00" height="99.20" fill="#1a921a" />
<rect x="2377.00" y="842.40" width="14.00" height="33.10" fill="#1a921a" />
<rect x="2401.00" y="822.30" width="2.00" height="54.10" fill="#1a921a" />
<rect x="2395.00" y="868.00" width="14.00" height="3.50" fill="#1a921a" />
<rect x="2419.00" y="884.10" width="2.00" height="45.50" fill="#bc0e18" />
<rect x="2414.0" y="840.6" width="12" height="42.5" fill="#fff" stroke="#bc0e18" stroke-width="2"/>
<rect x="2437.00" y="831.60" width="2.00" height="82.50" fill="#1a921a" />
<rect x="2431.00" y="845.20" width="14.00" height="59.90" fill="#1a921a" />
<rect x="2455.00" y="828.50" width="2.00" height="10.20" fill="#bc0e18" />
<rect x="2455.00" y="875.50" width="2.00" height="11.70" fill="#bc0e18" />
<rect x="2450.0" y="839.7" width="12" height="34.8" fill="#fff" stroke="#bc0e18" stroke-width="2"/>
<rect x="2473.00" y="827.00" width="2.00" height="124.50" fill="#1a921a" />
<rect x="2467.00" y="827.00" width="14.00" height="123.00" fill="#1a921a" />
<rect x="2491.00" y="953.00" width="2.00" height="57.20" fill="#1a921a" />
<rect x="2485.00" y="980.20" width="14.00" height="24.20" fill="#1a921a" />
<rect x="2509.00" y="938.20" width="2.00" height="9.30" fill="#bc0e18" />
<rect x="2509.00" y="1001.00" width="2.00" height="4.00" fill="#bc0e18" />
<rect x="2504.0" y="948.5" width="12" height="51.5" fill="#fff" stroke="#bc0e18" stroke-width="2"/>
<rect x="2527.00" y="866.20" width="2.00" height="17.60" fill="#bc0e18" />
<rect x="2527.00" y="949.00" width="2.00" height="26.60" fill="#bc0e18" />
<rect x="2522.0" y="884.8" width="12" height="63.2" fill="#fff" stroke="#bc0e18" stroke-width="2"/>
<rect x="2545.00" y="863.10" width="2.00" height="102.30" fill="#1a921a" />
<rect x="2539.00" y="880.10" width="14.00" height="49.50" fill="#1a921a" />
<rect x="2563.00" y="839.30" width="2.00" height="29.40" fill="#bc0e18" />
<rect x="2563.00" y="932.00" width="2.00" height="1.60" fill="#bc0e18" />
<rect x="2558.0" y="869.7" width="12" height="61.3" fill="#fff" stroke="#bc0e18" stroke-width="2"/>
<rect x="2581.00" y="876.40" width="2.00" height="80.40" fill="#1a921a" />
<rect x="2575.00" y="889.10" width="14.00" height="42.30" fill="#1a921a" />
<rect x="2599.00" y="900.20" width="2.00" height="20.40" fill="#bc0e18" />
<rect x="2599.00" y="966.70" width="2.00" height="11.70" fill="#bc0e18" />
<rect x="2594.0" y="921.6" width="12" height="44.1" fill="#fff" stroke="#bc0e18" stroke-width="2"/>
<rect x="2617.00" y="929.00" width="2.00" height="144.70" fill="#1a921a" />
<rect x="2611.00" y="955.20" width="14.00" height="117.60" fill="#1a921a" />
<rect x="2635.00" y="1016.20" width="2.00" height="8.80" fill="#bc0e18" />
<rect x="2635.00" y="1045.90" width="2.00" height="70.80" fill="#bc0e18" />
<rect x="2630.0" y="1026.0" width="12" height="18.9" fill="#fff" stroke="#bc0e18" stroke-width="2"/>
<rect x="2653.00" y="1030.10" width="2.00" height="131.40" fill="#1a921a" />
<rect x="2647.00" y="1030.10" width="14.00" height="124.60" fill="#1a921a" />
<rect x="2671.00" y="1098.10" width="2.00" height="141.60" fill="#1a921a" />
<rect x="2665.00" y="1123.20" width="14.00" height="111.20" fill="#1a921a" />
<rect x="2689.00" y="1082.00" width="2.00" height="82.00" fill="#1a921a" />
<rect x="2683.00" y="1129.00" width="14.00" height="6.50" fill="#1a921a" />
<rect x="2707.00" y="1145.10" width="2.00" height="147.10" fill="#1a921a" />
<rect x="2701.00" y="1145.10" width="14.00" height="24.40" fill="#1a921a" />
<rect x="2725.00" y="1100.30" width="2.00" height="9.60" fill="#bc0e18" />
<rect x="2725.00" y="1171.00" width="2.00" height="19.50" fill="#bc0e18" />
<rect x="2720.0" y="1110.9" width="12" height="59.1" fill="#fff" stroke="#bc0e18" stroke-width="2"/>
<rect x="2743.00" y="1102.20" width="2.00" height="70.40" fill="#1a921a" />
<rect x="2737.00" y="1102.20" width="14.00" height="24.10" fill="#1a921a" />
<rect x="2761.00" y="1095.00" width="2.00" height="93.70" fill="#1a921a" />
<rect x="2755.00" y="1156.80" width="14.00" height="23.50" fill="#1a921a" />
<rect x="2779.00" y="1193.30" width="2.00" height="88.10" fill="#1a921a" />
<rect x="2773.00" y="1211.20" width="14.00" height="39.30" fill="#1a921a" />
<rect x="2797.00" y="1181.30" width="2.00" height="2.40" fill="#bc0e18" />
<rect x="2797.00" y="1246.80" width="2.00" height="6.80" fill="#bc0e18" />
<rect x="2792.0" y="1184.7" width="12" height="61.1" fill="#fff" stroke="#bc0e18" stroke-width="2"/>
<rect x="2815.00" y="1122.00" width="2.00" height="51.20" fill="#1a921a" />
<rect x="2809.00" y="1154.00" width="14.00" height="3.20" fill="#1a921a" />
<rect x="2833.00" y="1113.00" width="2.00" height="28.70" fill="#bc0e18" />
<rect x="2833.00" y="1158.70" width="2.00" height="14.50" fill="#bc0e18" />
<rect x="2828.0" y="1142.7" width="12" height="15.0" fill="#fff" stroke="#bc0e18" stroke-width="2"/>
<polyline points="44.0,417.0 62.0,414.7 80.0,394.5 98.0,375.9 116.0,377.8 134.0,380.5 152.0,383.6 170.0,385.6 188.0,394.5 206.0,418.4 224.0,435.0 242.0,441.9 260.0,461.6 278.0,472.8 296.0,470.9 314.0,467.0 332.0,463.3 350.0,462.8 368.0,453.8 386.0,451.1 404.0,480.1 422.0,535.0 440.0,580.2 458.0,622.3 476.0,662.2 494.0,687.4 512.0,712.0 530.0,735.1 548.0,763.7 566.0,787.2 584.0,778.9 602.0,737.9 620.0,702.2 638.0,685.0 656.0,666.1 674.0,665.1 692.0,678.5 710.0,690.4 728.0,702.5 746.0,723.9 764.0,744.8 782.0,766.7 800.0,783.2 818.0,807.3 836.0,823.8 854.0,841.8 872.0,846.4 890.0,849.7 908.0,848.9 926.0,838.6 944.0,824.8 962.0,810.1 980.0,799.5 998.0,775.9 1016.0,750.0 1034.0,724.9 1052.0,709.2 1070.0,709.5 1088.0,718.0 1106.0,716.2 1124.0,732.0 1142.0,751.6 1160.0,768.9 1178.0,782.0 1196.0,799.9 1214.0,822.1 1232.0,829.3 1250.0,820.6 1268.0,802.6 1286.0,798.7 1304.0,782.0 1322.0,773.5 1340.0,761.9 1358.0,762.2 1376.0,756.8 1394.0,746.2 1412.0,737.6 1430.0,733.4 1448.0,727.4 1466.0,716.2 1484.0,722.3 1502.0,729.2 1520.0,732.5 1538.0,730.4 1556.0,741.8 1574.0,754.2 1592.0,762.5 1610.0,779.0 1628.0,797.5 1646.0,813.8 1664.0,824.5 1682.0,819.7 1700.0,822.4 1718.0,823.4 1736.0,817.5 1754.0,808.3 1772.0,812.6 1790.0,805.9 1808.0,796.9 1826.0,787.5 1844.0,774.0 1862.0,774.3 1880.0,778.4 1898.0,782.8 1916.0,790.0 1934.0,795.9 1952.0,793.4 1970.0,792.0 1988.0,794.9 2006.0,793.6 2024.0,782.5 2042.0,757.1 2060.0,729.8 2078.0,697.1 2096.0,666.5 2114.0,643.9 2132.0,618.8 2150.0,611.3 2168.0,612.9 2186.0,614.1 2204.0,625.4 2222.0,643.5 2240.0,662.1 2258.0,685.2 2276.0,698.4 2294.0,715.5 2312.0,731.4 2330.0,733.3 2348.0,727.8 2366.0,734.1 2384.0,747.7 2402.0,765.6 2420.0,776.4 2438.0,793.6 2456.0,809.1 2474.0,825.6 2492.0,852.9 2510.0,877.2 2528.0,892.2 2546.0,904.6 2564.0,903.9 2582.0,909.9 2600.0,918.0 2618.0,934.8 2636.0,953.4 2654.0,973.9 2672.0,996.9 2690.0,1015.6 2708.0,1044.2 2726.0,1062.2 2744.0,1088.0 2762.0,1112.9 2780.0,1145.9 2798.0,1157.0 2816.0,1170.2 2834.0,1168.9" fill="none" stroke="#00e600" stroke-width="2.0" stroke-linejoin="round" stroke-linecap="round" shape-rendering="crispEdges"/>
<polyline points="44.0,327.3 62.0,336.3 80.0,345.6 98.0,349.9 116.0,360.3 134.0,376.6 152.0,389.5 170.0,394.5 188.0,406.9 206.0,419.3 224.0,425.6 242.0,427.5 260.0,428.3 278.0,426.3 296.0,425.2 314.0,424.8 332.0,425.0 350.0,425.2 368.0,425.2 386.0,434.8 404.0,457.6 422.0,488.4 440.0,520.9 458.0,547.5 476.0,566.5 494.0,577.2 512.0,587.7 530.0,599.0 548.0,608.8 566.0,619.2 584.0,629.5 602.0,636.5 620.0,641.2 638.0,653.6 656.0,664.1 674.0,676.2 692.0,695.3 710.0,712.8 728.0,733.1 746.0,755.5 764.0,761.9 782.0,752.3 800.0,742.7 818.0,746.1 836.0,745.0 854.0,753.4 872.0,762.4 890.0,770.1 908.0,775.7 926.0,781.2 944.0,784.8 962.0,788.4 980.0,791.3 998.0,791.6 1016.0,786.9 1034.0,783.3 1052.0,777.8 1070.0,779.6 1088.0,783.4 1106.0,777.4 1124.0,778.4 1142.0,780.8 1160.0,784.2 1178.0,778.9 1196.0,775.0 1214.0,773.5 1232.0,769.2 1250.0,765.1 1268.0,760.3 1286.0,757.4 1304.0,757.0 1322.0,762.5 1340.0,765.4 1358.0,772.1 1376.0,778.4 1394.0,784.2 1412.0,783.5 1430.0,777.0 1448.0,765.0 1466.0,757.5 1484.0,752.2 1502.0,751.3 1520.0,747.2 1538.0,746.3 1556.0,749.3 1574.0,750.2 1592.0,750.1 1610.0,756.2 1628.0,762.4 1646.0,765.0 1664.0,773.4 1682.0,774.5 1700.0,777.5 1718.0,776.9 1736.0,779.6 1754.0,781.3 1772.0,787.6 1790.0,792.4 1808.0,797.1 1826.0,800.6 1844.0,799.2 1862.0,797.0 1880.0,800.4 1898.0,803.1 1916.0,803.7 1934.0,802.1 1952.0,803.0 1970.0,798.9 1988.0,795.9 2006.0,790.5 2024.0,778.3 2042.0,765.7 2060.0,754.1 2078.0,740.0 2096.0,728.3 2114.0,719.9 2132.0,706.1 2150.0,701.6 2168.0,703.9 2186.0,703.9 2204.0,704.0 2222.0,700.3 2240.0,696.0 2258.0,691.2 2276.0,682.5 2294.0,679.7 2312.0,675.1 2330.0,672.3 2348.0,670.3 2366.0,674.1 2384.0,686.6 2402.0,704.5 2420.0,719.3 2438.0,739.4 2456.0,753.7 2474.0,770.6 2492.0,792.1 2510.0,805.2 2528.0,810.0 2546.0,819.4 2564.0,825.8 2582.0,837.7 2600.0,847.2 2618.0,864.2 2636.0,881.2 2654.0,899.7 2672.0,924.9 2690.0,946.4 2708.0,968.2 2726.0,983.4 2744.0,996.0 2762.0,1011.4 2780.0,1031.9 2798.0,1045.9 2816.0,1061.8 2834.0,1071.4" fill="none" stroke="#10e2f0" stroke-width="2.1" stroke-linejoin="round" stroke-linecap="round" shape-rendering="crispEdges"/>
<polyline points="44.0,371.2 62.0,368.7 80.0,366.2 98.0,363.9 116.0,361.5 134.0,358.4 152.0,355.3 170.0,351.4 188.0,349.4 206.0,347.5 224.0,348.1 242.0,348.7 260.0,351.2 278.0,353.7 296.0,354.7 314.0,355.7 332.0,356.5 350.0,362.3 368.0,368.1 386.0,377.0 404.0,392.6 422.0,411.8 440.0,431.0 458.0,446.1 476.0,461.3 494.0,473.9 512.0,486.5 530.0,496.2 548.0,505.9 566.0,517.1 584.0,528.4 602.0,532.1 620.0,535.8 638.0,541.2 656.0,546.7 674.0,551.3 692.0,559.6 710.0,568.0 728.0,578.5 746.0,595.2 764.0,609.7 782.0,620.4 800.0,631.8 818.0,646.8 836.0,655.8 854.0,665.3 872.0,675.0 890.0,684.5 908.0,692.2 926.0,700.2 944.0,707.2 962.0,712.4 980.0,716.3 998.0,722.6 1016.0,725.5 1034.0,729.8 1052.0,736.5 1070.0,746.2 1088.0,758.3 1106.0,766.5 1124.0,770.1 1142.0,766.6 1160.0,763.4 1178.0,762.5 1196.0,760.0 1214.0,763.5 1232.0,765.8 1250.0,767.6 1268.0,768.0 1286.0,769.3 1304.0,770.9 1322.0,775.5 1340.0,778.4 1358.0,781.8 1376.0,782.6 1394.0,783.8 1412.0,780.6 1430.0,778.3 1448.0,774.2 1466.0,767.4 1484.0,765.3 1502.0,766.1 1520.0,765.7 1538.0,762.6 1556.0,762.1 1574.0,761.9 1592.0,759.7 1610.0,760.6 1628.0,761.3 1646.0,761.2 1664.0,765.2 1682.0,768.5 1700.0,771.4 1718.0,774.5 1736.0,779.0 1754.0,782.7 1772.0,785.5 1790.0,784.7 1808.0,781.1 1826.0,779.0 1844.0,775.7 1862.0,774.2 1880.0,773.8 1898.0,774.7 1916.0,776.5 1934.0,776.2 1952.0,776.5 1970.0,777.6 1988.0,779.1 2006.0,777.8 2024.0,775.8 2042.0,770.1 2060.0,765.8 2078.0,758.4 2096.0,754.0 2114.0,750.6 2132.0,746.8 2150.0,747.0 2168.0,750.5 2186.0,752.2 2204.0,751.6 2222.0,748.6 2240.0,748.2 2258.0,747.1 2276.0,743.1 2294.0,740.9 2312.0,739.1 2330.0,735.6 2348.0,733.1 2366.0,732.3 2384.0,732.4 2402.0,735.1 2420.0,736.7 2438.0,739.7 2456.0,741.0 2474.0,745.2 2492.0,749.1 2510.0,753.4 2528.0,756.9 2546.0,761.6 2564.0,764.9 2582.0,769.0 2600.0,771.6 2618.0,777.7 2636.0,781.8 2654.0,789.7 2672.0,800.0 2690.0,809.4 2708.0,819.3 2726.0,828.8 2744.0,841.3 2762.0,858.0 2780.0,875.6 2798.0,892.6 2816.0,907.8 2834.0,921.0" fill="none" stroke="#1896ff" stroke-width="3.1" stroke-linejoin="round" stroke-linecap="round" shape-rendering="crispEdges"/>
<polyline points="44.0,425.6 62.0,423.2 80.0,419.9 98.0,416.6 116.0,418.0 134.0,419.3 152.0,419.5 170.0,419.7 188.0,417.2 206.0,414.7 224.0,410.4 242.0,406.1 260.0,402.6 278.0,399.2 296.0,398.8 314.0,398.4 332.0,397.4 350.0,396.4 368.0,396.4 386.0,396.4 404.0,400.0 422.0,408.9 440.0,418.6 458.0,424.4 476.0,430.2 494.0,431.8 512.0,433.3 530.0,435.2 548.0,437.2 566.0,439.5 584.0,441.9 602.0,445.8 620.0,449.6 638.0,454.5 656.0,459.3 674.0,465.1 692.0,471.0 710.0,480.7 728.0,490.4 746.0,504.0 764.0,517.6 782.0,529.2 800.0,540.9 818.0,551.1 836.0,561.4 854.0,571.1 872.0,580.8 890.0,589.0 908.0,597.1 926.0,605.5 944.0,613.8 962.0,617.7 980.0,621.6 998.0,624.0 1016.0,626.3 1034.0,628.7 1052.0,633.3 1070.0,639.2 1088.0,647.7 1106.0,655.9 1124.0,665.9 1142.0,673.9 1160.0,682.6 1178.0,690.9 1196.0,695.5 1214.0,701.4 1232.0,706.4 1250.0,711.4 1268.0,714.9 1286.0,719.3 1304.0,723.8 1322.0,729.1 1340.0,732.6 1358.0,739.1 1376.0,743.1 1394.0,747.9 1412.0,752.2 1430.0,756.5 1448.0,760.5 1466.0,763.5 1484.0,764.1 1502.0,761.5 1520.0,758.0 1538.0,757.1 1556.0,756.4 1574.0,759.1 1592.0,760.6 1610.0,763.8 1628.0,766.1 1646.0,767.9 1664.0,771.7 1682.0,775.1 1700.0,778.1 1718.0,780.2 1736.0,781.6 1754.0,782.9 1772.0,782.9 1790.0,783.0 1808.0,781.9 1826.0,778.5 1844.0,776.6 1862.0,776.4 1880.0,777.3 1898.0,776.1 1916.0,776.0 1934.0,775.3 1952.0,774.1 1970.0,773.4 1988.0,772.8 2006.0,771.0 2024.0,769.5 2042.0,767.6 2060.0,765.6 2078.0,763.0 2096.0,762.1 2114.0,761.8 2132.0,759.0 2150.0,757.0 2168.0,755.3 2186.0,754.0 2204.0,751.8 2222.0,749.5 2240.0,747.9 2258.0,746.9 2276.0,745.2 2294.0,744.0 2312.0,742.7 2330.0,742.5 2348.0,742.9 2366.0,743.2 2384.0,746.1 2402.0,748.2 2420.0,750.3 2438.0,752.1 2456.0,753.9 2474.0,757.2 2492.0,761.9 2510.0,766.4 2528.0,770.3 2546.0,774.6 2564.0,776.3 2582.0,778.3 2600.0,781.2 2618.0,786.1 2636.0,789.1 2654.0,793.9 2672.0,801.0 2690.0,805.9 2708.0,811.5 2726.0,816.0 2744.0,820.3 2762.0,827.2 2780.0,835.1 2798.0,841.7 2816.0,847.9 2834.0,853.9" fill="none" stroke="#18808c" stroke-width="3.0" stroke-linejoin="round" stroke-linecap="round" shape-rendering="crispEdges"/>
<polyline points="44.0,279.2 62.0,278.0 80.0,276.9 98.0,275.7 116.0,277.2 134.0,278.8 152.0,282.1 170.0,285.4 188.0,289.9 206.0,294.3 224.0,298.8 242.0,303.3 260.0,308.6 278.0,313.8 296.0,318.6 314.0,323.5 332.0,327.0 350.0,330.5 368.0,336.1 386.0,341.7 404.0,349.1 422.0,356.5 440.0,365.0 458.0,370.4 476.0,375.9 494.0,382.7 512.0,389.5 530.0,396.2 548.0,403.0 566.0,409.8 584.0,416.6 602.0,426.3 620.0,436.0 638.0,444.4 656.0,452.7 674.0,460.9 692.0,469.0 710.0,475.8 728.0,482.6 746.0,489.4 764.0,496.2 782.0,502.0 800.0,507.9 818.0,512.8 836.0,517.6 854.0,521.0 872.0,524.5 890.0,526.9 908.0,529.2 926.0,531.5 944.0,533.9 962.0,535.2 980.0,536.6 998.0,537.2 1016.0,537.7 1034.0,538.1 1052.0,539.1 1070.0,540.4 1088.0,541.7 1106.0,543.0 1124.0,545.6 1142.0,548.5 1160.0,551.5 1178.0,554.4 1196.0,557.6 1214.0,560.9 1232.0,563.3 1250.0,565.5 1268.0,567.4 1286.0,568.1 1304.0,568.8 1322.0,569.4 1340.0,569.6 1358.0,569.9 1376.0,571.7 1394.0,573.6 1412.0,574.8 1430.0,575.9 1448.0,577.8 1466.0,579.8 1484.0,581.9 1502.0,584.8 1520.0,587.9 1538.0,590.9 1556.0,593.0 1574.0,594.8 1592.0,596.5 1610.0,598.7 1628.0,601.5 1646.0,604.0 1664.0,606.2 1682.0,608.6 1700.0,613.2 1718.0,616.8 1736.0,619.6 1754.0,622.3 1772.0,626.4 1790.0,630.9 1808.0,635.3 1826.0,640.2 1844.0,645.1 1862.0,650.0 1880.0,656.1 1898.0,662.3 1916.0,667.6 1934.0,672.9 1952.0,677.5 1970.0,681.9 1988.0,686.2 2006.0,689.4 2024.0,692.6 2042.0,693.5 2060.0,693.5 2078.0,693.6 2096.0,694.3 2114.0,694.9 2132.0,696.5 2150.0,698.2 2168.0,702.1 2186.0,704.9 2204.0,708.9 2222.0,711.7 2240.0,715.2 2258.0,718.9 2276.0,720.3 2294.0,722.7 2312.0,724.6 2330.0,726.9 2348.0,728.9 2366.0,731.2 2384.0,734.9 2402.0,738.7 2420.0,741.5 2438.0,745.6 2456.0,748.5 2474.0,752.6 2492.0,757.1 2510.0,761.5 2528.0,765.4 2546.0,769.0 2564.0,770.2 2582.0,769.9 2600.0,769.6 2618.0,771.6 2636.0,772.8 2654.0,776.5 2672.0,780.8 2690.0,784.8 2708.0,788.8 2726.0,792.0 2744.0,796.0 2762.0,801.2 2780.0,806.6 2798.0,811.0 2816.0,814.8 2834.0,818.4" fill="none" stroke="#000" stroke-width="3.2" stroke-linejoin="round" stroke-linecap="round" shape-rendering="crispEdges"/>
<rect x="394.8" y="604.4" width="2445.9" height="417.9" rx="5" fill="none" stroke="#fd2014" stroke-width="5"/>
<line x1="44.00" y1="255.50" x2="63.00" y2="255.50" stroke="#000" stroke-width="1.5" />
<path d="M44 255.5L51 251.5L51 259.5Z" fill="#000"/>
<text x="66.2" y="261.9" font-size="19.3" fill="#000" text-anchor="start" textLength="69.8" lengthAdjust="spacingAndGlyphs" >5260.64</text>
<line x1="2708.00" y1="1292.20" x2="2727.00" y2="1292.20" stroke="#555" stroke-width="1.5" />
<path d="M2708 1292.2L2715 1288.2L2715 1296.2Z" fill="#000"/>
<text x="2728.8" y="1300.9" font-size="19.3" fill="#000" text-anchor="start" textLength="69.8" lengthAdjust="spacingAndGlyphs" >4522.47</text>
<rect x="37.00" y="1687.80" width="14.00" height="182.80" fill="#1a921a" />
<rect x="55.00" y="1699.00" width="14.00" height="171.60" fill="#1a921a" />
<rect x="74.0" y="1728.5" width="12" height="141.1" fill="#fff" stroke="#bc0e18" stroke-width="2"/>
<rect x="91.00" y="1696.00" width="14.00" height="174.60" fill="#1a921a" />
<rect x="109.00" y="1693.00" width="14.00" height="177.60" fill="#1a921a" />
<rect x="128.0" y="1695.0" width="12" height="174.6" fill="#fff" stroke="#bc0e18" stroke-width="2"/>
<rect x="145.00" y="1678.20" width="14.00" height="192.40" fill="#1a921a" />
<rect x="164.0" y="1668.4" width="12" height="201.2" fill="#fff" stroke="#bc0e18" stroke-width="2"/>
<rect x="181.00" y="1633.00" width="14.00" height="237.60" fill="#1a921a" />
<rect x="200.0" y="1653.2" width="12" height="216.4" fill="#fff" stroke="#bc0e18" stroke-width="2"/>
<rect x="218.0" y="1589.8" width="12" height="279.8" fill="#fff" stroke="#bc0e18" stroke-width="2"/>
<rect x="236.0" y="1643.6" width="12" height="226.0" fill="#fff" stroke="#bc0e18" stroke-width="2"/>
<rect x="253.00" y="1611.80" width="14.00" height="258.80" fill="#1a921a" />
<rect x="272.0" y="1623.6" width="12" height="246.0" fill="#fff" stroke="#bc0e18" stroke-width="2"/>
<rect x="289.00" y="1636.60" width="14.00" height="234.00" fill="#1a921a" />
<rect x="308.0" y="1661.8" width="12" height="207.8" fill="#fff" stroke="#bc0e18" stroke-width="2"/>
<rect x="326.0" y="1694.8" width="12" height="174.8" fill="#fff" stroke="#bc0e18" stroke-width="2"/>
<rect x="344.0" y="1642.1" width="12" height="227.5" fill="#fff" stroke="#bc0e18" stroke-width="2"/>
<rect x="362.0" y="1617.6" width="12" height="252.0" fill="#fff" stroke="#bc0e18" stroke-width="2"/>
<rect x="379.00" y="1574.00" width="14.00" height="296.60" fill="#1a921a" />
<rect x="397.00" y="1558.00" width="14.00" height="312.60" fill="#1a921a" />
<rect x="415.00" y="1546.90" width="14.00" height="323.70" fill="#1a921a" />
<rect x="434.0" y="1608.7" width="12" height="260.9" fill="#fff" stroke="#bc0e18" stroke-width="2"/>
<rect x="452.0" y="1634.7" width="12" height="234.9" fill="#fff" stroke="#bc0e18" stroke-width="2"/>
<rect x="469.00" y="1621.00" width="14.00" height="249.60" fill="#1a921a" />
<rect x="488.0" y="1560.5" width="12" height="309.1" fill="#fff" stroke="#bc0e18" stroke-width="2"/>
<rect x="506.0" y="1593.9" width="12" height="275.7" fill="#fff" stroke="#bc0e18" stroke-width="2"/>
<rect x="524.0" y="1631.7" width="12" height="237.9" fill="#fff" stroke="#bc0e18" stroke-width="2"/>
<rect x="542.0" y="1643.6" width="12" height="226.0" fill="#fff" stroke="#bc0e18" stroke-width="2"/>
<rect x="559.00" y="1657.80" width="14.00" height="212.80" fill="#1a921a" />
<rect x="578.0" y="1622.4" width="12" height="247.2" fill="#fff" stroke="#bc0e18" stroke-width="2"/>
<rect x="596.0" y="1643.6" width="12" height="226.0" fill="#fff" stroke="#bc0e18" stroke-width="2"/>
<rect x="613.00" y="1622.60" width="14.00" height="248.00" fill="#1a921a" />
<rect x="631.00" y="1640.00" width="14.00" height="230.60" fill="#1a921a" />
<rect x="649.00" y="1656.00" width="14.00" height="214.60" fill="#1a921a" />
<rect x="668.0" y="1649.5" width="12" height="220.1" fill="#fff" stroke="#bc0e18" stroke-width="2"/>
<rect x="685.00" y="1612.90" width="14.00" height="257.70" fill="#1a921a" />
<rect x="704.0" y="1601.7" width="12" height="267.9" fill="#fff" stroke="#bc0e18" stroke-width="2"/>
<rect x="721.00" y="1593.60" width="14.00" height="277.00" fill="#1a921a" />
<rect x="739.00" y="1628.10" width="14.00" height="242.50" fill="#1a921a" />
<rect x="758.0" y="1642.1" width="12" height="227.5" fill="#fff" stroke="#bc0e18" stroke-width="2"/>
<rect x="776.0" y="1601.7" width="12" height="267.9" fill="#fff" stroke="#bc0e18" stroke-width="2"/>
<rect x="794.0" y="1613.9" width="12" height="255.7" fill="#fff" stroke="#bc0e18" stroke-width="2"/>
<rect x="811.00" y="1600.30" width="14.00" height="270.30" fill="#1a921a" />
<rect x="830.0" y="1621.0" width="12" height="248.6" fill="#fff" stroke="#bc0e18" stroke-width="2"/>
<rect x="847.00" y="1570.30" width="14.00" height="300.30" fill="#1a921a" />
<rect x="866.0" y="1550.9" width="12" height="318.7" fill="#fff" stroke="#bc0e18" stroke-width="2"/>
<rect x="884.0" y="1427.7" width="12" height="441.9" fill="#fff" stroke="#bc0e18" stroke-width="2"/>
<rect x="902.0" y="1506.0" width="12" height="363.6" fill="#fff" stroke="#bc0e18" stroke-width="2"/>
<rect x="919.00" y="1504.20" width="14.00" height="366.40" fill="#1a921a" />
<rect x="938.0" y="1543.1" width="12" height="326.5" fill="#fff" stroke="#bc0e18" stroke-width="2"/>
<rect x="956.0" y="1539.0" width="12" height="330.6" fill="#fff" stroke="#bc0e18" stroke-width="2"/>
<rect x="973.00" y="1508.30" width="14.00" height="362.30" fill="#1a921a" />
<rect x="992.0" y="1521.9" width="12" height="347.7" fill="#fff" stroke="#bc0e18" stroke-width="2"/>
<rect x="1010.0" y="1478.9" width="12" height="390.7" fill="#fff" stroke="#bc0e18" stroke-width="2"/>
<rect x="1027.00" y="1529.50" width="14.00" height="341.10" fill="#1a921a" />
<rect x="1045.00" y="1535.40" width="14.00" height="335.20" fill="#1a921a" />
<rect x="1063.00" y="1613.30" width="14.00" height="257.30" fill="#1a921a" />
<rect x="1081.00" y="1574.00" width="14.00" height="296.60" fill="#1a921a" />
<rect x="1100.0" y="1596.1" width="12" height="273.5" fill="#fff" stroke="#bc0e18" stroke-width="2"/>
<rect x="1118.0" y="1611.3" width="12" height="258.3" fill="#fff" stroke="#bc0e18" stroke-width="2"/>
<rect x="1136.0" y="1559.8" width="12" height="309.8" fill="#fff" stroke="#bc0e18" stroke-width="2"/>
<rect x="1154.0" y="1586.5" width="12" height="283.1" fill="#fff" stroke="#bc0e18" stroke-width="2"/>
<rect x="1172.0" y="1575.7" width="12" height="293.9" fill="#fff" stroke="#bc0e18" stroke-width="2"/>
<rect x="1190.0" y="1629.9" width="12" height="239.7" fill="#fff" stroke="#bc0e18" stroke-width="2"/>
<rect x="1207.00" y="1612.90" width="14.00" height="257.70" fill="#1a921a" />
<rect x="1226.0" y="1671.8" width="12" height="197.8" fill="#fff" stroke="#bc0e18" stroke-width="2"/>
<rect x="1244.0" y="1642.1" width="12" height="227.5" fill="#fff" stroke="#bc0e18" stroke-width="2"/>
<rect x="1261.00" y="1645.90" width="14.00" height="224.70" fill="#1a921a" />
<rect x="1279.00" y="1641.10" width="14.00" height="229.50" fill="#1a921a" />
<rect x="1298.0" y="1691.8" width="12" height="177.8" fill="#fff" stroke="#bc0e18" stroke-width="2"/>
<rect x="1315.00" y="1706.00" width="14.00" height="164.60" fill="#1a921a" />
<rect x="1334.0" y="1676.6" width="12" height="193.0" fill="#fff" stroke="#bc0e18" stroke-width="2"/>
<rect x="1351.00" y="1676.00" width="14.00" height="194.60" fill="#1a921a" />
<rect x="1370.0" y="1686.6" width="12" height="183.0" fill="#fff" stroke="#bc0e18" stroke-width="2"/>
<rect x="1387.00" y="1676.00" width="14.00" height="194.60" fill="#1a921a" />
<rect x="1406.0" y="1667.7" width="12" height="201.9" fill="#fff" stroke="#bc0e18" stroke-width="2"/>
<rect x="1424.0" y="1675.5" width="12" height="194.1" fill="#fff" stroke="#bc0e18" stroke-width="2"/>
<rect x="1442.0" y="1677.3" width="12" height="192.3" fill="#fff" stroke="#bc0e18" stroke-width="2"/>
<rect x="1459.00" y="1678.20" width="14.00" height="192.40" fill="#1a921a" />
<rect x="1477.00" y="1668.90" width="14.00" height="201.70" fill="#1a921a" />
<rect x="1495.00" y="1655.20" width="14.00" height="215.40" fill="#1a921a" />
<rect x="1514.0" y="1652.9" width="12" height="216.7" fill="#fff" stroke="#bc0e18" stroke-width="2"/>
<rect x="1532.0" y="1638.4" width="12" height="231.2" fill="#fff" stroke="#bc0e18" stroke-width="2"/>
<rect x="1549.00" y="1616.20" width="14.00" height="254.40" fill="#1a921a" />
<rect x="1567.00" y="1675.20" width="14.00" height="195.40" fill="#1a921a" />
<rect x="1586.0" y="1689.6" width="12" height="180.0" fill="#fff" stroke="#bc0e18" stroke-width="2"/>
<rect x="1603.00" y="1668.90" width="14.00" height="201.70" fill="#1a921a" />
<rect x="1622.0" y="1683.6" width="12" height="186.0" fill="#fff" stroke="#bc0e18" stroke-width="2"/>
<rect x="1639.00" y="1707.90" width="14.00" height="162.70" fill="#1a921a" />
<rect x="1657.00" y="1684.90" width="14.00" height="185.70" fill="#1a921a" />
<rect x="1676.0" y="1652.9" width="12" height="216.7" fill="#fff" stroke="#bc0e18" stroke-width="2"/>
<rect x="1693.00" y="1687.80" width="14.00" height="182.80" fill="#1a921a" />
<rect x="1711.00" y="1703.00" width="14.00" height="167.60" fill="#1a921a" />
<rect x="1730.0" y="1697.7" width="12" height="171.9" fill="#fff" stroke="#bc0e18" stroke-width="2"/>
<rect x="1748.0" y="1722.6" width="12" height="147.0" fill="#fff" stroke="#bc0e18" stroke-width="2"/>
<rect x="1765.00" y="1714.20" width="14.00" height="156.40" fill="#1a921a" />
<rect x="1784.0" y="1697.7" width="12" height="171.9" fill="#fff" stroke="#bc0e18" stroke-width="2"/>
<rect x="1802.0" y="1682.9" width="12" height="186.7" fill="#fff" stroke="#bc0e18" stroke-width="2"/>
<rect x="1820.0" y="1659.9" width="12" height="209.7" fill="#fff" stroke="#bc0e18" stroke-width="2"/>
<rect x="1838.0" y="1683.6" width="12" height="186.0" fill="#fff" stroke="#bc0e18" stroke-width="2"/>
<rect x="1855.00" y="1710.80" width="14.00" height="159.80" fill="#1a921a" />
<rect x="1873.00" y="1704.90" width="14.00" height="165.70" fill="#1a921a" />
<rect x="1892.0" y="1689.6" width="12" height="180.0" fill="#fff" stroke="#bc0e18" stroke-width="2"/>
<rect x="1909.00" y="1693.00" width="14.00" height="177.60" fill="#1a921a" />
<rect x="1928.0" y="1703.7" width="12" height="165.9" fill="#fff" stroke="#bc0e18" stroke-width="2"/>
<rect x="1946.0" y="1668.4" width="12" height="201.2" fill="#fff" stroke="#bc0e18" stroke-width="2"/>
<rect x="1964.0" y="1674.7" width="12" height="194.9" fill="#fff" stroke="#bc0e18" stroke-width="2"/>
<rect x="1981.00" y="1632.90" width="14.00" height="237.70" fill="#1a921a" />
<rect x="1999.00" y="1624.80" width="14.00" height="245.80" fill="#1a921a" />
<rect x="2018.0" y="1655.5" width="12" height="214.1" fill="#fff" stroke="#bc0e18" stroke-width="2"/>
<rect x="2036.0" y="1569.8" width="12" height="299.8" fill="#fff" stroke="#bc0e18" stroke-width="2"/>
<rect x="2054.0" y="1607.6" width="12" height="262.0" fill="#fff" stroke="#bc0e18" stroke-width="2"/>
<rect x="2071.00" y="1579.90" width="14.00" height="290.70" fill="#1a921a" />
<rect x="2089.00" y="1652.20" width="14.00" height="218.40" fill="#1a921a" />
<rect x="2107.00" y="1665.20" width="14.00" height="205.40" fill="#1a921a" />
<rect x="2126.0" y="1674.7" width="12" height="194.9" fill="#fff" stroke="#bc0e18" stroke-width="2"/>
<rect x="2143.00" y="1666.00" width="14.00" height="204.60" fill="#1a921a" />
<rect x="2161.00" y="1635.50" width="14.00" height="235.10" fill="#1a921a" />
<rect x="2180.0" y="1674.7" width="12" height="194.9" fill="#fff" stroke="#bc0e18" stroke-width="2"/>
<rect x="2197.00" y="1687.10" width="14.00" height="183.50" fill="#1a921a" />
<rect x="2216.0" y="1680.7" width="12" height="188.9" fill="#fff" stroke="#bc0e18" stroke-width="2"/>
<rect x="2233.00" y="1674.90" width="14.00" height="195.70" fill="#1a921a" />
<rect x="2252.0" y="1701.8" width="12" height="167.8" fill="#fff" stroke="#bc0e18" stroke-width="2"/>
<rect x="2270.0" y="1692.9" width="12" height="176.7" fill="#fff" stroke="#bc0e18" stroke-width="2"/>
<rect x="2287.00" y="1714.20" width="14.00" height="156.40" fill="#1a921a" />
<rect x="2306.0" y="1704.8" width="12" height="164.8" fill="#fff" stroke="#bc0e18" stroke-width="2"/>
<rect x="2324.0" y="1704.8" width="12" height="164.8" fill="#fff" stroke="#bc0e18" stroke-width="2"/>
<rect x="2341.00" y="1664.10" width="14.00" height="206.50" fill="#1a921a" />
<rect x="2359.00" y="1624.80" width="14.00" height="245.80" fill="#1a921a" />
<rect x="2377.00" y="1654.10" width="14.00" height="216.50" fill="#1a921a" />
<rect x="2395.00" y="1615.10" width="14.00" height="255.50" fill="#1a921a" />
<rect x="2414.0" y="1658.8" width="12" height="210.8" fill="#fff" stroke="#bc0e18" stroke-width="2"/>
<rect x="2431.00" y="1672.60" width="14.00" height="198.00" fill="#1a921a" />
<rect x="2450.0" y="1673.6" width="12" height="196.0" fill="#fff" stroke="#bc0e18" stroke-width="2"/>
<rect x="2467.00" y="1672.60" width="14.00" height="198.00" fill="#1a921a" />
<rect x="2485.00" y="1672.60" width="14.00" height="198.00" fill="#1a921a" />
<rect x="2504.0" y="1713.7" width="12" height="155.9" fill="#fff" stroke="#bc0e18" stroke-width="2"/>
<rect x="2522.0" y="1665.1" width="12" height="204.5" fill="#fff" stroke="#bc0e18" stroke-width="2"/>
<rect x="2539.00" y="1687.10" width="14.00" height="183.50" fill="#1a921a" />
<rect x="2558.0" y="1646.5" width="12" height="223.1" fill="#fff" stroke="#bc0e18" stroke-width="2"/>
<rect x="2575.00" y="1679.00" width="14.00" height="191.60" fill="#1a921a" />
<rect x="2594.0" y="1715.9" width="12" height="153.7" fill="#fff" stroke="#bc0e18" stroke-width="2"/>
<rect x="2611.00" y="1687.10" width="14.00" height="183.50" fill="#1a921a" />
<rect x="2630.0" y="1724.8" width="12" height="144.8" fill="#fff" stroke="#bc0e18" stroke-width="2"/>
<rect x="2647.00" y="1703.00" width="14.00" height="167.60" fill="#1a921a" />
<rect x="2665.00" y="1697.10" width="14.00" height="173.50" fill="#1a921a" />
<rect x="2683.00" y="1671.90" width="14.00" height="198.70" fill="#1a921a" />
<rect x="2701.00" y="1656.70" width="14.00" height="213.90" fill="#1a921a" />
<rect x="2720.0" y="1668.4" width="12" height="201.2" fill="#fff" stroke="#bc0e18" stroke-width="2"/>
<rect x="2737.00" y="1663.00" width="14.00" height="207.60" fill="#1a921a" />
<rect x="2755.00" y="1656.70" width="14.00" height="213.90" fill="#1a921a" />
<rect x="2773.00" y="1680.80" width="14.00" height="189.80" fill="#1a921a" />
<rect x="2792.0" y="1713.7" width="12" height="155.9" fill="#fff" stroke="#bc0e18" stroke-width="2"/>
<rect x="2809.00" y="1723.10" width="14.00" height="147.50" fill="#1a921a" />
<rect x="2828.0" y="1721.8" width="12" height="147.8" fill="#fff" stroke="#bc0e18" stroke-width="2"/>
<polyline points="44.0,1686.4 62.0,1688.8 80.0,1691.2 98.0,1692.1 116.0,1693.0 134.0,1692.7 152.0,1692.3 170.0,1687.5 188.0,1683.8 206.0,1682.8 224.0,1672.9 242.0,1667.3 260.0,1655.7 278.0,1648.4 296.0,1642.7 314.0,1639.4 332.0,1641.0 350.0,1638.3 368.0,1636.7 386.0,1628.9 404.0,1625.8 422.0,1616.2 440.0,1615.8 458.0,1616.9 476.0,1615.4 494.0,1605.2 512.0,1595.1 530.0,1594.1 548.0,1596.7 566.0,1605.1 584.0,1611.4 602.0,1621.0 620.0,1622.5 638.0,1623.1 656.0,1626.6 674.0,1635.5 692.0,1637.5 710.0,1634.5 728.0,1629.6 746.0,1626.6 764.0,1628.6 782.0,1624.4 800.0,1623.5 818.0,1619.5 836.0,1615.9 854.0,1608.1 872.0,1601.8 890.0,1584.4 908.0,1575.5 926.0,1563.1 944.0,1553.2 962.0,1546.9 980.0,1536.5 998.0,1528.5 1016.0,1514.3 1034.0,1510.2 1052.0,1508.8 1070.0,1527.5 1088.0,1534.4 1106.0,1543.5 1124.0,1550.3 1142.0,1552.3 1160.0,1560.1 1178.0,1565.5 1196.0,1580.5 1214.0,1588.9 1232.0,1602.4 1250.0,1605.2 1268.0,1612.4 1286.0,1617.0 1304.0,1625.0 1322.0,1639.8 1340.0,1648.8 1358.0,1658.9 1376.0,1664.6 1394.0,1670.9 1412.0,1670.5 1430.0,1673.8 1448.0,1676.9 1466.0,1680.6 1484.0,1678.4 1502.0,1673.3 1520.0,1670.9 1538.0,1667.1 1556.0,1660.1 1574.0,1660.0 1592.0,1662.2 1610.0,1661.7 1628.0,1662.3 1646.0,1665.3 1664.0,1666.9 1682.0,1666.5 1700.0,1670.1 1718.0,1676.7 1736.0,1684.8 1754.0,1689.4 1772.0,1692.0 1790.0,1694.7 1808.0,1694.7 1826.0,1689.8 1844.0,1689.5 1862.0,1695.4 1880.0,1697.1 1898.0,1695.7 1916.0,1695.3 1934.0,1693.4 1952.0,1688.8 1970.0,1686.5 1988.0,1681.5 2006.0,1678.1 2024.0,1675.3 2042.0,1661.1 2060.0,1651.3 2078.0,1640.4 2096.0,1636.3 2114.0,1632.6 2132.0,1633.2 2150.0,1632.5 2168.0,1632.7 2186.0,1637.6 2204.0,1640.9 2222.0,1652.0 2240.0,1658.8 2258.0,1670.9 2276.0,1674.8 2294.0,1679.8 2312.0,1682.8 2330.0,1686.5 2348.0,1689.4 2366.0,1684.5 2384.0,1681.2 2402.0,1674.8 2420.0,1673.0 2438.0,1670.2 2456.0,1668.3 2474.0,1664.1 2492.0,1661.0 2510.0,1661.9 2528.0,1661.9 2546.0,1668.1 2564.0,1667.3 2582.0,1673.7 2600.0,1679.4 2618.0,1680.8 2636.0,1685.9 2654.0,1689.0 2672.0,1691.4 2690.0,1687.3 2708.0,1686.6 2726.0,1684.6 2744.0,1686.4 2762.0,1684.2 2780.0,1680.8 2798.0,1683.3 2816.0,1683.2 2834.0,1685.0" fill="none" stroke="#00e400" stroke-width="2.8" stroke-linejoin="round" stroke-linecap="round" shape-rendering="crispEdges"/>
<polyline points="44.0,1683.8 62.0,1685.1 80.0,1686.4 98.0,1687.1 116.0,1687.8 134.0,1688.2 152.0,1688.6 170.0,1686.2 188.0,1683.8 206.0,1681.0 224.0,1678.2 242.0,1675.8 260.0,1673.4 278.0,1670.6 296.0,1667.8 314.0,1667.4 332.0,1667.0 350.0,1664.8 368.0,1662.6 386.0,1655.8 404.0,1649.3 422.0,1641.7 440.0,1635.8 458.0,1632.6 476.0,1629.0 494.0,1622.3 512.0,1618.0 530.0,1616.2 548.0,1616.7 566.0,1617.0 584.0,1618.6 602.0,1618.6 620.0,1619.1 638.0,1620.0 656.0,1621.0 674.0,1620.4 692.0,1616.3 710.0,1614.3 728.0,1613.2 746.0,1615.9 764.0,1620.0 782.0,1622.7 800.0,1623.0 818.0,1621.3 836.0,1621.2 854.0,1621.8 872.0,1619.6 890.0,1609.4 908.0,1602.6 926.0,1594.9 944.0,1590.9 962.0,1585.7 980.0,1580.0 998.0,1574.0 1016.0,1565.1 1034.0,1559.2 1052.0,1555.3 1070.0,1555.9 1088.0,1554.9 1106.0,1553.3 1124.0,1551.7 1142.0,1549.6 1160.0,1548.3 1178.0,1547.0 1196.0,1547.4 1214.0,1549.6 1232.0,1555.6 1250.0,1566.3 1268.0,1573.4 1286.0,1580.2 1304.0,1587.7 1322.0,1596.1 1340.0,1604.4 1358.0,1612.2 1376.0,1622.6 1394.0,1629.9 1412.0,1636.5 1430.0,1639.5 1448.0,1644.6 1466.0,1648.8 1484.0,1651.7 1502.0,1656.5 1520.0,1659.9 1538.0,1663.0 1556.0,1662.4 1574.0,1665.5 1592.0,1666.4 1610.0,1667.8 1628.0,1669.6 1646.0,1672.9 1664.0,1672.6 1682.0,1669.9 1700.0,1670.5 1718.0,1671.9 1736.0,1672.4 1754.0,1674.7 1772.0,1677.1 1790.0,1678.2 1808.0,1678.5 1826.0,1677.5 1844.0,1678.2 1862.0,1681.0 1880.0,1683.6 1898.0,1686.2 1916.0,1690.0 1934.0,1691.4 1952.0,1690.3 1970.0,1690.6 1988.0,1688.1 2006.0,1684.0 2024.0,1682.4 2042.0,1678.3 2060.0,1674.2 2078.0,1668.1 2096.0,1665.8 2114.0,1663.0 2132.0,1661.0 2150.0,1659.5 2168.0,1657.1 2186.0,1657.9 2204.0,1658.1 2222.0,1656.5 2240.0,1655.0 2258.0,1655.7 2276.0,1655.6 2294.0,1656.2 2312.0,1658.0 2330.0,1659.5 2348.0,1661.1 2366.0,1661.1 2384.0,1661.0 2402.0,1663.4 2420.0,1665.9 2438.0,1670.5 2456.0,1671.6 2474.0,1671.9 2492.0,1671.9 2510.0,1674.2 2528.0,1675.7 2546.0,1676.3 2564.0,1674.2 2582.0,1674.2 2600.0,1676.2 2618.0,1675.5 2636.0,1677.1 2654.0,1676.6 2672.0,1676.2 2690.0,1674.6 2708.0,1674.3 2726.0,1676.4 2744.0,1676.8 2762.0,1678.9 2780.0,1680.1 2798.0,1682.1 2816.0,1684.6 2834.0,1687.0" fill="none" stroke="#10e2f0" stroke-width="2.8" stroke-linejoin="round" stroke-linecap="round" shape-rendering="crispEdges"/>
<polyline points="44.0,1676.3 62.0,1676.9 80.0,1677.6 98.0,1678.2 116.0,1679.5 134.0,1680.7 152.0,1682.0 170.0,1681.5 188.0,1681.0 206.0,1679.6 224.0,1678.2 242.0,1677.0 260.0,1675.7 278.0,1674.5 296.0,1674.1 314.0,1673.8 332.0,1673.4 350.0,1672.3 368.0,1671.1 386.0,1670.0 404.0,1667.0 422.0,1664.0 440.0,1662.8 458.0,1661.5 476.0,1659.1 494.0,1656.7 512.0,1655.2 530.0,1653.7 548.0,1652.2 566.0,1651.3 584.0,1650.5 602.0,1649.6 620.0,1647.8 638.0,1646.0 656.0,1645.0 674.0,1644.0 692.0,1642.2 710.0,1640.4 728.0,1638.5 746.0,1635.8 764.0,1634.7 782.0,1632.2 800.0,1629.4 818.0,1627.0 836.0,1625.1 854.0,1622.0 872.0,1618.8 890.0,1612.8 908.0,1609.6 926.0,1605.9 944.0,1604.8 962.0,1602.1 980.0,1599.6 998.0,1597.0 1016.0,1593.0 1034.0,1589.8 1052.0,1585.8 1070.0,1585.1 1088.0,1584.0 1106.0,1584.6 1124.0,1585.9 1142.0,1586.2 1160.0,1585.6 1178.0,1584.1 1196.0,1584.3 1214.0,1585.7 1232.0,1587.6 1250.0,1587.9 1268.0,1588.0 1286.0,1587.5 1304.0,1589.3 1322.0,1590.9 1340.0,1592.2 1358.0,1593.1 1376.0,1593.8 1394.0,1594.5 1412.0,1595.9 1430.0,1597.7 1448.0,1599.8 1466.0,1601.0 1484.0,1601.7 1502.0,1603.1 1520.0,1604.1 1538.0,1605.0 1556.0,1604.9 1574.0,1607.5 1592.0,1611.0 1610.0,1617.0 1628.0,1621.5 1646.0,1626.6 1664.0,1630.1 1682.0,1633.0 1700.0,1637.5 1718.0,1642.0 1736.0,1647.5 1754.0,1652.3 1772.0,1656.8 1790.0,1658.9 1808.0,1661.6 1826.0,1663.2 1844.0,1665.0 1862.0,1668.8 1880.0,1671.7 1898.0,1674.6 1916.0,1676.2 1934.0,1678.4 1952.0,1678.4 1970.0,1679.2 1988.0,1678.8 2006.0,1678.4 2024.0,1677.5 2042.0,1674.1 2060.0,1672.4 2078.0,1670.0 2096.0,1669.1 2114.0,1668.9 2132.0,1669.0 2150.0,1668.8 2168.0,1667.8 2186.0,1667.7 2204.0,1668.2 2222.0,1668.8 2240.0,1669.3 2258.0,1670.9 2276.0,1672.8 2294.0,1673.8 2312.0,1674.2 2330.0,1675.0 2348.0,1674.6 2366.0,1672.5 2384.0,1671.7 2402.0,1670.8 2420.0,1670.1 2438.0,1669.3 2456.0,1668.7 2474.0,1667.5 2492.0,1666.4 2510.0,1666.8 2528.0,1666.4 2546.0,1667.1 2564.0,1666.2 2582.0,1665.4 2600.0,1665.6 2618.0,1665.6 2636.0,1666.4 2654.0,1666.4 2672.0,1667.1 2690.0,1667.1 2708.0,1667.7 2726.0,1668.7 2744.0,1668.9 2762.0,1671.1 2780.0,1673.0 2798.0,1676.3 2816.0,1678.1 2834.0,1679.5" fill="none" stroke="#1896ff" stroke-width="3.0" stroke-linejoin="round" stroke-linecap="round" shape-rendering="crispEdges"/>
<polyline points="44.0,1682.6 62.0,1683.1 80.0,1683.5 98.0,1684.0 116.0,1684.4 134.0,1684.9 152.0,1683.9 170.0,1683.0 188.0,1682.0 206.0,1680.5 224.0,1679.0 242.0,1678.1 260.0,1677.2 278.0,1676.3 296.0,1675.4 314.0,1674.5 332.0,1673.4 350.0,1672.3 368.0,1671.2 386.0,1670.1 404.0,1669.0 422.0,1666.5 440.0,1664.0 458.0,1663.0 476.0,1662.0 494.0,1661.0 512.0,1660.5 530.0,1660.0 548.0,1659.5 566.0,1659.0 584.0,1658.5 602.0,1658.0 620.0,1657.5 638.0,1657.0 656.0,1656.5 674.0,1656.0 692.0,1655.1 710.0,1654.2 728.0,1653.3 746.0,1651.8 764.0,1650.4 782.0,1649.5 800.0,1648.7 818.0,1647.8 836.0,1645.9 854.0,1644.0 872.0,1641.6 890.0,1639.2 908.0,1636.1 926.0,1633.0 944.0,1631.0 962.0,1628.9 980.0,1625.8 998.0,1622.6 1016.0,1619.8 1034.0,1617.0 1052.0,1614.6 1070.0,1612.2 1088.0,1611.0 1106.0,1608.3 1124.0,1607.0 1142.0,1604.7 1160.0,1602.3 1178.0,1600.3 1196.0,1599.2 1214.0,1597.9 1232.0,1597.8 1250.0,1597.3 1268.0,1597.5 1286.0,1597.4 1304.0,1599.1 1322.0,1600.1 1340.0,1601.2 1358.0,1602.1 1376.0,1602.9 1394.0,1603.1 1412.0,1602.7 1430.0,1603.2 1448.0,1604.2 1466.0,1606.0 1484.0,1607.8 1502.0,1609.6 1520.0,1610.4 1538.0,1610.4 1556.0,1610.3 1574.0,1612.3 1592.0,1613.9 1610.0,1614.5 1628.0,1615.2 1646.0,1616.0 1664.0,1617.1 1682.0,1617.2 1700.0,1618.3 1718.0,1619.4 1736.0,1620.0 1754.0,1621.3 1772.0,1622.9 1790.0,1624.5 1808.0,1626.0 1826.0,1626.5 1844.0,1627.2 1862.0,1629.1 1880.0,1630.6 1898.0,1632.1 1916.0,1633.3 1934.0,1635.5 1952.0,1637.4 1970.0,1641.6 1988.0,1643.7 2006.0,1645.7 2024.0,1647.6 2042.0,1648.1 2060.0,1649.7 2078.0,1650.7 2096.0,1653.6 2114.0,1655.9 2132.0,1658.2 2150.0,1659.1 2168.0,1660.1 2186.0,1661.4 2204.0,1662.7 2222.0,1664.7 2240.0,1666.2 2258.0,1668.3 2276.0,1669.3 2294.0,1671.0 2312.0,1671.6 2330.0,1672.6 2348.0,1672.9 2366.0,1672.6 2384.0,1672.0 2402.0,1670.5 2420.0,1670.2 2438.0,1670.2 2456.0,1669.9 2474.0,1669.9 2492.0,1670.0 2510.0,1670.6 2528.0,1670.4 2546.0,1670.6 2564.0,1670.2 2582.0,1670.6 2600.0,1671.6 2618.0,1672.5 2636.0,1674.2 2654.0,1674.7 2672.0,1674.9 2690.0,1674.9 2708.0,1674.5 2726.0,1673.8 2744.0,1673.4 2762.0,1673.5 2780.0,1673.4 2798.0,1673.6 2816.0,1674.0 2834.0,1674.0" fill="none" stroke="#18808c" stroke-width="2.8" stroke-linejoin="round" stroke-linecap="round" shape-rendering="crispEdges"/>
<polyline points="44.0,1645.9 62.0,1646.2 80.0,1646.4 98.0,1646.7 116.0,1647.6 134.0,1648.4 152.0,1649.3 170.0,1649.9 188.0,1650.5 206.0,1651.1 224.0,1651.7 242.0,1652.4 260.0,1653.0 278.0,1653.3 296.0,1653.7 314.0,1654.0 332.0,1655.0 350.0,1656.0 368.0,1655.5 386.0,1655.0 404.0,1654.5 422.0,1654.0 440.0,1653.8 458.0,1653.7 476.0,1653.5 494.0,1653.3 512.0,1653.3 530.0,1653.3 548.0,1653.3 566.0,1653.3 584.0,1653.3 602.0,1653.6 620.0,1653.9 638.0,1654.2 656.0,1654.5 674.0,1654.8 692.0,1655.4 710.0,1656.0 728.0,1656.1 746.0,1656.3 764.0,1656.4 782.0,1657.0 800.0,1657.6 818.0,1658.2 836.0,1658.1 854.0,1657.9 872.0,1657.8 890.0,1656.5 908.0,1655.3 926.0,1654.0 944.0,1653.2 962.0,1652.3 980.0,1651.5 998.0,1650.3 1016.0,1649.0 1034.0,1647.8 1052.0,1647.2 1070.0,1646.6 1088.0,1646.0 1106.0,1645.3 1124.0,1644.7 1142.0,1644.0 1160.0,1643.3 1178.0,1642.5 1196.0,1641.8 1214.0,1641.5 1232.0,1641.3 1250.0,1641.0 1268.0,1641.0 1286.0,1641.0 1304.0,1641.0 1322.0,1640.2 1340.0,1639.3 1358.0,1638.5 1376.0,1638.5 1394.0,1638.5 1412.0,1638.5 1430.0,1638.2 1448.0,1637.9 1466.0,1637.6 1484.0,1637.4 1502.0,1637.3 1520.0,1637.1 1538.0,1636.9 1556.0,1636.8 1574.0,1636.6 1592.0,1636.8 1610.0,1637.1 1628.0,1637.3 1646.0,1637.6 1664.0,1637.8 1682.0,1637.9 1700.0,1637.9 1718.0,1638.0 1736.0,1638.0 1754.0,1638.1 1772.0,1638.2 1790.0,1638.3 1808.0,1638.3 1826.0,1638.4 1844.0,1638.5 1862.0,1639.1 1880.0,1639.8 1898.0,1640.4 1916.0,1640.4 1934.0,1640.4 1952.0,1640.4 1970.0,1640.4 1988.0,1640.0 2006.0,1639.6 2024.0,1639.2 2042.0,1638.6 2060.0,1638.0 2078.0,1637.4 2096.0,1637.0 2114.0,1636.7 2132.0,1636.3 2150.0,1636.0 2168.0,1635.8 2186.0,1634.9 2204.0,1634.9 2222.0,1634.7 2240.0,1634.3 2258.0,1634.3 2276.0,1634.3 2294.0,1634.5 2312.0,1634.7 2330.0,1635.0 2348.0,1635.2 2366.0,1635.0 2384.0,1635.5 2402.0,1635.3 2420.0,1635.7 2438.0,1636.1 2456.0,1636.4 2474.0,1636.5 2492.0,1636.3 2510.0,1636.9 2528.0,1637.3 2546.0,1638.3 2564.0,1639.0 2582.0,1640.1 2600.0,1641.0 2618.0,1641.4 2636.0,1642.3 2654.0,1643.5 2672.0,1644.4 2690.0,1644.7 2708.0,1644.8 2726.0,1644.9 2744.0,1645.2 2762.0,1645.4 2780.0,1645.9 2798.0,1646.5 2816.0,1647.0 2834.0,1647.6" fill="none" stroke="#000" stroke-width="3.0" stroke-linejoin="round" stroke-linecap="round" shape-rendering="crispEdges"/>
<rect x="33.00" y="29.80" width="2.30" height="1843.20" fill="#000" />
<rect x="3383.00" y="29.80" width="2.20" height="1843.20" fill="#000" />
<rect x="33.00" y="1870.80" width="3352.00" height="2.30" fill="#000" />
<rect x="35.00" y="1395.00" width="3348.00" height="2.00" fill="#666" />
<rect x="33.90" y="28.30" width="3351.00" height="1.70" fill="#555" />
<rect x="33.30" y="1873.00" width="2.20" height="4.60" fill="#555" />
<text x="36.8" y="1892.7" font-size="18" fill="#000" text-anchor="start" textLength="20.2" lengthAdjust="spacingAndGlyphs" >06</text>
<rect x="222.80" y="1873.00" width="2.20" height="4.60" fill="#555" />
<text x="225.8" y="1892.7" font-size="18" fill="#000" text-anchor="start" textLength="20.2" lengthAdjust="spacingAndGlyphs" >07</text>
<rect x="492.80" y="1873.00" width="2.20" height="4.60" fill="#555" />
<text x="495.8" y="1892.7" font-size="18" fill="#000" text-anchor="start" textLength="20.2" lengthAdjust="spacingAndGlyphs" >08</text>
<rect x="888.80" y="1873.00" width="2.20" height="4.60" fill="#555" />
<text x="891.8" y="1892.7" font-size="18" fill="#000" text-anchor="start" textLength="20.2" lengthAdjust="spacingAndGlyphs" >09</text>
<rect x="1248.80" y="1873.00" width="2.20" height="4.60" fill="#555" />
<text x="1251.8" y="1892.7" font-size="18" fill="#000" text-anchor="start" textLength="20.2" lengthAdjust="spacingAndGlyphs" >10</text>
<rect x="1536.80" y="1873.00" width="2.20" height="4.60" fill="#555" />
<text x="1539.8" y="1892.7" font-size="18" fill="#000" text-anchor="start" textLength="20.2" lengthAdjust="spacingAndGlyphs" >11</text>
<rect x="1932.80" y="1873.00" width="2.20" height="4.60" fill="#555" />
<text x="1935.8" y="1892.7" font-size="18" fill="#000" text-anchor="start" textLength="20.2" lengthAdjust="spacingAndGlyphs" >12</text>
<rect x="2346.80" y="1873.00" width="2.20" height="4.60" fill="#555" />
<text x="2349.8" y="1892.7" font-size="18" fill="#000" text-anchor="start" textLength="20.2" lengthAdjust="spacingAndGlyphs" >01</text>
<rect x="2688.80" y="1873.00" width="2.20" height="4.60" fill="#555" />
<text x="2691.8" y="1892.7" font-size="18" fill="#000" text-anchor="start" textLength="20.2" lengthAdjust="spacingAndGlyphs" >02</text>
<rect x="33.00" y="1899.00" width="3807.00" height="2.20" fill="#666" />
<text x="34.4" y="51.6" font-size="18" fill="#1f9dbd" text-anchor="start" textLength="88.0" lengthAdjust="spacingAndGlyphs" >日线(复权)</text>
<text x="135.1" y="51.6" font-size="18" fill="#1b8d9e" text-anchor="start" textLength="70.4" lengthAdjust="spacingAndGlyphs" >沪深300</text>
<text x="213.5" y="51.6" font-size="18" fill="#00dd00" text-anchor="start" textLength="134.0" lengthAdjust="spacingAndGlyphs" >MA10: 4834.69</text>
<text x="347.7" y="52.9" font-size="27" fill="#10e2f0" text-anchor="start" textLength="10.5" lengthAdjust="spacingAndGlyphs" stroke="#10e2f0" stroke-width="0.5">↓</text>
<text x="365.7" y="51.6" font-size="18" fill="#10e2f0" text-anchor="start" textLength="134.3" lengthAdjust="spacingAndGlyphs" >MA20: 4878.02</text>
<text x="500.2" y="52.9" font-size="27" fill="#10e2f0" text-anchor="start" textLength="10.5" lengthAdjust="spacingAndGlyphs" stroke="#10e2f0" stroke-width="0.5">↓</text>
<text x="517.5" y="51.6" font-size="18" fill="#1896ff" text-anchor="start" textLength="134.0" lengthAdjust="spacingAndGlyphs" >MA40: 4908.81</text>
<text x="651.7" y="52.9" font-size="27" fill="#10e2f0" text-anchor="start" textLength="10.5" lengthAdjust="spacingAndGlyphs" stroke="#10e2f0" stroke-width="0.5">↓</text>
<text x="669.6" y="51.6" font-size="18" fill="#18808c" text-anchor="start" textLength="134.0" lengthAdjust="spacingAndGlyphs" >MA60: 4899.68</text>
<text x="803.8" y="52.9" font-size="27" fill="#10e2f0" text-anchor="start" textLength="10.5" lengthAdjust="spacingAndGlyphs" stroke="#10e2f0" stroke-width="0.5">↓</text>
<text x="821.0" y="51.6" font-size="18" fill="#000" text-anchor="start" textLength="145.6" lengthAdjust="spacingAndGlyphs" >MA120: 4903.17</text>
<text x="966.8" y="52.9" font-size="27" fill="#10e2f0" text-anchor="start" textLength="10.5" lengthAdjust="spacingAndGlyphs" stroke="#10e2f0" stroke-width="0.5">↓</text>
<text x="35.0" y="1417.0" font-size="18" fill="#1c8a1c" text-anchor="start" textLength="105.9" lengthAdjust="spacingAndGlyphs" >总手: 1.47亿</text>
<text x="141.1" y="1418.3" font-size="27" fill="#f03030" text-anchor="start" textLength="10.5" lengthAdjust="spacingAndGlyphs" stroke="#f03030" stroke-width="0.6">↑</text>
<text x="158.0" y="1417.0" font-size="18" fill="#00dd00" text-anchor="start" textLength="158.0" lengthAdjust="spacingAndGlyphs" >MAVOL10: 1.53亿</text>
<text x="316.2" y="1418.3" font-size="27" fill="#f03030" text-anchor="start" textLength="10.5" lengthAdjust="spacingAndGlyphs" stroke="#f03030" stroke-width="0.6">↑</text>
<text x="334.3" y="1417.0" font-size="18" fill="#10e2f0" text-anchor="start" textLength="158.0" lengthAdjust="spacingAndGlyphs" >MAVOL20: 1.45亿</text>
<text x="492.5" y="1418.3" font-size="27" fill="#f03030" text-anchor="start" textLength="10.5" lengthAdjust="spacingAndGlyphs" stroke="#f03030" stroke-width="0.6">↑</text>
<text x="510.2" y="1417.0" font-size="18" fill="#1896ff" text-anchor="start" textLength="158.0" lengthAdjust="spacingAndGlyphs" >MAVOL40: 1.49亿</text>
<text x="668.4" y="1418.3" font-size="27" fill="#f03030" text-anchor="start" textLength="10.5" lengthAdjust="spacingAndGlyphs" stroke="#f03030" stroke-width="0.6">↑</text>
<text x="686.2" y="1417.0" font-size="18" fill="#18808c" text-anchor="start" textLength="158.0" lengthAdjust="spacingAndGlyphs" >MAVOL60: 1.46亿</text>
<text x="844.4" y="1418.3" font-size="27" fill="#10e2f0" text-anchor="start" textLength="10.5" lengthAdjust="spacingAndGlyphs" stroke="#10e2f0" stroke-width="0.6">↓</text>
<text x="862.5" y="1417.0" font-size="18" fill="#000" text-anchor="start" textLength="168.7" lengthAdjust="spacingAndGlyphs" >MAVOL120: 1.71亿</text>
<text x="1031.4" y="1418.3" font-size="27" fill="#f03030" text-anchor="start" textLength="10.5" lengthAdjust="spacingAndGlyphs" stroke="#f03030" stroke-width="0.6">↑</text>
<rect x="3221.00" y="1397.00" width="162.00" height="29.70" fill="#000" />
<text x="3272.0" y="1418.3" font-size="19" fill="#555" text-anchor="start" >成交量</text>
<path d="M3364.4 1407.5L3373.6 1407.5L3369 1415Z" fill="#e8e8e8"/>
<rect x="3385.2" y="1848.5" width="34" height="21.5" fill="#fff" stroke="#777" stroke-width="1.5"/>
<text x="3387.0" y="1866.4" font-size="18" fill="#000" text-anchor="start" textLength="31.0" lengthAdjust="spacingAndGlyphs" >X10</text>
<rect x="62.00" y="0.00" width="567.00" height="1.50" fill="#666" />
<rect x="61.00" y="0.00" width="2.00" height="29.00" fill="#666" />
<text x="87.0" y="21.9" font-size="18.6" fill="#000" text-anchor="middle" >分时</text>
<rect x="111.00" y="0.00" width="32.70" height="29.00" fill="#666" />
<rect x="110.00" y="0.00" width="2.00" height="29.00" fill="#666" />
<text x="127.8" y="21.9" font-size="18.6" fill="#fff" text-anchor="middle" >日</text>
<rect x="142.70" y="0.00" width="2.00" height="29.00" fill="#666" />
<text x="159.2" y="21.9" font-size="18.6" fill="#000" text-anchor="middle" >周</text>
<rect x="172.70" y="0.00" width="2.00" height="29.00" fill="#666" />
<text x="189.8" y="21.9" font-size="18.6" fill="#000" text-anchor="middle" >月</text>
<rect x="203.80" y="0.00" width="2.00" height="29.00" fill="#666" />
<text x="220.8" y="21.9" font-size="18.6" fill="#000" text-anchor="middle" >季</text>
<rect x="234.80" y="0.00" width="2.00" height="29.00" fill="#666" />
<text x="251.8" y="21.9" font-size="18.6" fill="#000" text-anchor="middle" >年</text>
<rect x="265.90" y="0.00" width="2.00" height="29.00" fill="#666" />
<text x="288.4" y="21.9" font-size="18.6" fill="#000" text-anchor="middle" >1分</text>
<rect x="308.00" y="0.00" width="2.00" height="29.00" fill="#666" />
<text x="330.5" y="21.9" font-size="18.6" fill="#000" text-anchor="middle" >5分</text>
<rect x="350.00" y="0.00" width="2.00" height="29.00" fill="#666" />
<text x="377.9" y="21.9" font-size="18.6" fill="#000" text-anchor="middle" >15分</text>
<rect x="402.70" y="0.00" width="2.00" height="29.00" fill="#666" />
<text x="431.0" y="21.9" font-size="18.6" fill="#000" text-anchor="middle" >30分</text>
<rect x="456.30" y="0.00" width="2.00" height="29.00" fill="#666" />
<text x="484.0" y="21.9" font-size="18.6" fill="#000" text-anchor="middle" >60分</text>
<rect x="508.70" y="0.00" width="2.00" height="29.00" fill="#666" />
<text x="545.0" y="21.9" font-size="18.6" fill="#000" text-anchor="middle" >多周期</text>
<rect x="578.20" y="0.00" width="2.00" height="29.00" fill="#666" />
<text x="604.5" y="21.9" font-size="18.6" fill="#000" text-anchor="middle" >设置</text>
<rect x="628.00" y="0.00" width="2.00" height="29.00" fill="#666" />
<g transform="translate(36.5,5.9) scale(1)" fill="#3a3a3a"><path d="M0 5.6H8V0L17.2 9.3L8 18.6V13H0Z"/><rect x="18.4" y="0" width="3.4" height="18.6"/></g>
<rect x="3094.50" y="0.00" width="2.20" height="29.00" fill="#000" />
<text x="3118.1" y="20.1" font-size="17.6" fill="#5a5a5a" text-anchor="middle" >九转</text>
<rect x="3140.60" y="0.00" width="2.20" height="29.00" fill="#000" />
<text x="3172.8" y="20.1" font-size="17.6" fill="#5a5a5a" text-anchor="middle" >加自选</text>
<rect x="3204.00" y="0.00" width="2.20" height="29.00" fill="#000" />
<text x="3227.9" y="20.1" font-size="17.6" fill="#5a5a5a" text-anchor="middle" >均线</text>
<rect x="3250.90" y="0.00" width="2.20" height="29.00" fill="#000" />
<text x="3265.4" y="20.1" font-size="17.6" fill="#5a5a5a" text-anchor="middle" >窗</text>
<rect x="3279.00" y="0.00" width="2.20" height="29.00" fill="#000" />
<text x="3302.9" y="20.1" font-size="17.6" fill="#5a5a5a" text-anchor="middle" >预测</text>
<rect x="3325.90" y="0.00" width="2.20" height="29.00" fill="#000" />
<rect x="3353.80" y="0.00" width="2.20" height="29.00" fill="#000" />
<path d="M3136.2 0H3140.6V4.8Z" fill="#00e5ee"/>
<g fill="none" stroke="#444" stroke-width="2"><rect x="3332.5" y="13.5" width="16" height="11.5"/><path d="M3335.5 13.5V8.5a5.5 5.5 0 0 1 11 0"/></g><circle cx="3340.5" cy="18" r="1.8" fill="#444"/><rect x="3339.7" y="18" width="1.6" height="4" fill="#444"/>
<g transform="translate(3358,6) scale(0.98)" fill="#3a3a3a"><path d="M0 5.6H8V0L17.2 9.3L8 18.6V13H0Z"/><rect x="18.4" y="0" width="3.4" height="18.6"/></g>
<rect x="0.00" y="0.00" width="30.00" height="2.00" fill="#000" />
<rect x="0.00" y="0.00" width="2.00" height="153.00" fill="#000" />
<rect x="2.00" y="2.00" width="28.00" height="72.00" fill="#c5c4c7" />
<rect x="0.00" y="74.00" width="30.00" height="2.00" fill="#000" />
<rect x="2.00" y="76.00" width="28.00" height="75.00" fill="#c5c4c7" />
<rect x="0.00" y="151.00" width="30.00" height="2.20" fill="#000" />
<text x="16.5" y="34.4" font-size="18" fill="#000" text-anchor="middle" font-family='"Liberation Serif","Noto Serif CJK SC",serif' >首</text>
<text x="16.5" y="58.9" font-size="18" fill="#000" text-anchor="middle" font-family='"Liberation Serif","Noto Serif CJK SC",serif' >页</text>
<path d="M10.5 85.5L17 91L10.5 96.5Z" fill="#222"/>
<rect x="18.30" y="85.50" width="2.60" height="11.00" fill="#222" />
<text x="16.5" y="115.9" font-size="18" fill="#000" text-anchor="middle" font-family='"Liberation Serif","Noto Serif CJK SC",serif' >应</text>
<text x="16.5" y="140.4" font-size="18" fill="#000" text-anchor="middle" font-family='"Liberation Serif","Noto Serif CJK SC",serif' >用</text>
<rect x="2.00" y="155.00" width="27.80" height="79.50" fill="#c5c4c7" />
<text x="16.0" y="180.2" font-size="18" fill="#4a4a4a" text-anchor="middle" font-family='"Liberation Serif","Noto Serif CJK SC",serif' >分</text>
<text x="16.0" y="201.7" font-size="18" fill="#4a4a4a" text-anchor="middle" font-family='"Liberation Serif","Noto Serif CJK SC",serif' >时</text>
<text x="16.0" y="223.2" font-size="18" fill="#4a4a4a" text-anchor="middle" font-family='"Liberation Serif","Noto Serif CJK SC",serif' >图</text>
<rect x="2.00" y="238.50" width="27.80" height="79.30" fill="#000" />
<text x="16.0" y="263.6" font-size="18" fill="#fff" text-anchor="middle" font-family='"Liberation Serif","Noto Serif CJK SC",serif' >K</text>
<text x="16.0" y="285.1" font-size="18" fill="#fff" text-anchor="middle" font-family='"Liberation Serif","Noto Serif CJK SC",serif' >线</text>
<text x="16.0" y="306.6" font-size="18" fill="#fff" text-anchor="middle" font-family='"Liberation Serif","Noto Serif CJK SC",serif' >图</text>
<rect x="2.00" y="320.00" width="27.80" height="102.80" fill="#c5c4c7" />
<text x="16.0" y="345.4" font-size="18" fill="#4a4a4a" text-anchor="middle" font-family='"Liberation Serif","Noto Serif CJK SC",serif' >大</text>
<text x="16.0" y="366.5" font-size="18" fill="#4a4a4a" text-anchor="middle" font-family='"Liberation Serif","Noto Serif CJK SC",serif' >盘</text>
<text x="16.0" y="387.6" font-size="18" fill="#4a4a4a" text-anchor="middle" font-family='"Liberation Serif","Noto Serif CJK SC",serif' >资</text>
<text x="16.0" y="408.7" font-size="18" fill="#4a4a4a" text-anchor="middle" font-family='"Liberation Serif","Noto Serif CJK SC",serif' >料</text>
<rect x="2.00" y="426.00" width="27.80" height="79.50" fill="#c5c4c7" />
<text x="16.0" y="451.2" font-size="18" fill="#4a4a4a" text-anchor="middle" font-family='"Liberation Serif","Noto Serif CJK SC",serif' >自</text>
<text x="16.0" y="472.7" font-size="18" fill="#4a4a4a" text-anchor="middle" font-family='"Liberation Serif","Noto Serif CJK SC",serif' >选</text>
<text x="16.0" y="494.2" font-size="18" fill="#4a4a4a" text-anchor="middle" font-family='"Liberation Serif","Noto Serif CJK SC",serif' >股</text>
<rect x="2.00" y="508.30" width="27.80" height="102.20" fill="#c5c4c7" />
<text x="16.0" y="533.4" font-size="18" fill="#4a4a4a" text-anchor="middle" font-family='"Liberation Serif","Noto Serif CJK SC",serif' >综</text>
<text x="16.0" y="554.5" font-size="18" fill="#4a4a4a" text-anchor="middle" font-family='"Liberation Serif","Noto Serif CJK SC",serif' >合</text>
<text x="16.0" y="575.6" font-size="18" fill="#4a4a4a" text-anchor="middle" font-family='"Liberation Serif","Noto Serif CJK SC",serif' >排</text>
<text x="16.0" y="596.7" font-size="18" fill="#4a4a4a" text-anchor="middle" font-family='"Liberation Serif","Noto Serif CJK SC",serif' >名</text>
<rect x="2.00" y="614.20" width="27.80" height="79.60" fill="#c5c4c7" />
<text x="16.0" y="650.2" font-size="18" fill="#4a4a4a" text-anchor="middle" font-family='"Liberation Serif","Noto Serif CJK SC",serif' >更</text>
<text x="16.0" y="671.7" font-size="18" fill="#4a4a4a" text-anchor="middle" font-family='"Liberation Serif","Noto Serif CJK SC",serif' >多</text>
<rect x="33.00" y="1901.00" width="2.40" height="28.00" fill="#333" />
<rect x="131.00" y="1901.00" width="2.00" height="28.00" fill="#666" />
<text x="83.5" y="1922.8" font-size="19" fill="#000" text-anchor="middle" textLength="76.0" lengthAdjust="spacingAndGlyphs" >股市直播</text>
<rect x="229.20" y="1901.00" width="2.00" height="28.00" fill="#666" />
<text x="181.6" y="1922.8" font-size="19" fill="#000" text-anchor="middle" textLength="76.0" lengthAdjust="spacingAndGlyphs" >投资机会</text>
<rect x="328.30" y="1901.00" width="2.00" height="28.00" fill="#666" />
<text x="280.2" y="1922.8" font-size="19" fill="#000" text-anchor="middle" textLength="76.0" lengthAdjust="spacingAndGlyphs" >高手观点</text>
<g fill="#333"><rect x="3424" y="1908" width="15" height="2.4"/><path d="M3431.5 1911.5L3439 1919.5H3434V1925H3429V1919.5H3424Z"/></g>
<rect x="3462.20" y="0.00" width="2.20" height="1929.00" fill="#666" />
<rect x="3464.4" y="-2" width="30" height="31" fill="#fff" stroke="#000" stroke-width="2"/>
<g transform="translate(3468,6.2) scale(0.98)" fill="#3a3a3a"><path d="M0 5.6H8V0L17.2 9.3L8 18.6V13H0Z"/><rect x="18.4" y="0" width="3.4" height="18.6"/></g>
<text x="3511.3" y="37.4" font-size="36.8" fill="#1d9bb4" text-anchor="start" textLength="268.0" lengthAdjust="spacingAndGlyphs" >沪深300 000300</text>
<text x="3487.4" y="80.7" font-size="37.8" fill="#c2202a" text-anchor="start" textLength="138.9" lengthAdjust="spacingAndGlyphs" >4629.16</text>
<text x="3667.5" y="84.4" font-size="20.8" fill="#c2202a" text-anchor="start" textLength="64.5" lengthAdjust="spacingAndGlyphs" >+11.17</text>
<text x="3758.3" y="84.4" font-size="20.8" fill="#c2202a" text-anchor="start" textLength="70.7" lengthAdjust="spacingAndGlyphs" >+0.24%</text>
<rect x="3464.40" y="95.50" width="376.00" height="2.20" fill="#000" />
<text x="3466.6" y="130.7" font-size="20.2" fill="#000" text-anchor="start" textLength="40.2" lengthAdjust="spacingAndGlyphs" >委比</text>
<text x="3649.3" y="130.7" font-size="20.2" fill="#189018" text-anchor="end" textLength="79.8" lengthAdjust="spacingAndGlyphs" >-36.49%</text>
<text x="3839.0" y="130.7" font-size="20.2" fill="#189018" text-anchor="end" textLength="102.8" lengthAdjust="spacingAndGlyphs" >-15937076</text>
<rect x="3464.40" y="145.60" width="376.00" height="2.20" fill="#000" />
<text x="3466.6" y="179.2" font-size="20.2" fill="#000" text-anchor="start" textLength="40.2" lengthAdjust="spacingAndGlyphs" >最新</text>
<text x="3649.3" y="179.2" font-size="20.2" fill="#c2202a" text-anchor="end" textLength="76.2" lengthAdjust="spacingAndGlyphs" >4629.16</text>
<text x="3655.6" y="179.2" font-size="20.2" fill="#000" text-anchor="start" textLength="40.2" lengthAdjust="spacingAndGlyphs" >昨收</text>
<text x="3839.0" y="179.2" font-size="20.2" fill="#000" text-anchor="end" textLength="76.2" lengthAdjust="spacingAndGlyphs" >4617.99</text>
<text x="3466.6" y="227.5" font-size="20.2" fill="#000" text-anchor="start" textLength="40.2" lengthAdjust="spacingAndGlyphs" >涨跌</text>
<text x="3649.3" y="227.5" font-size="20.2" fill="#c2202a" text-anchor="end" textLength="66.9" lengthAdjust="spacingAndGlyphs" >+11.17</text>
<text x="3655.6" y="227.5" font-size="20.2" fill="#000" text-anchor="start" textLength="40.2" lengthAdjust="spacingAndGlyphs" >开盘</text>
<text x="3839.0" y="227.5" font-size="20.2" fill="#189018" text-anchor="end" textLength="76.2" lengthAdjust="spacingAndGlyphs" >4616.90</text>
<text x="3466.6" y="275.8" font-size="20.2" fill="#000" text-anchor="start" textLength="40.2" lengthAdjust="spacingAndGlyphs" >涨幅</text>
<text x="3649.3" y="275.8" font-size="20.2" fill="#c2202a" text-anchor="end" textLength="73.5" lengthAdjust="spacingAndGlyphs" >+0.24%</text>
<text x="3655.6" y="275.8" font-size="20.2" fill="#000" text-anchor="start" textLength="40.2" lengthAdjust="spacingAndGlyphs" >最高</text>
<text x="3839.0" y="275.8" font-size="20.2" fill="#c2202a" text-anchor="end" textLength="76.2" lengthAdjust="spacingAndGlyphs" >4650.16</text>
<text x="3466.6" y="324.1" font-size="20.2" fill="#000" text-anchor="start" textLength="40.2" lengthAdjust="spacingAndGlyphs" >振幅</text>
<text x="3649.3" y="324.1" font-size="20.2" fill="#1b8d9e" text-anchor="end" textLength="59.3" lengthAdjust="spacingAndGlyphs" >0.94%</text>
<text x="3655.6" y="324.1" font-size="20.2" fill="#000" text-anchor="start" textLength="40.2" lengthAdjust="spacingAndGlyphs" >最低</text>
<text x="3839.0" y="324.1" font-size="20.2" fill="#189018" text-anchor="end" textLength="76.2" lengthAdjust="spacingAndGlyphs" >4606.95</text>
<text x="3466.6" y="372.4" font-size="20.2" fill="#000" text-anchor="start" textLength="40.2" lengthAdjust="spacingAndGlyphs" >现手</text>
<text x="3649.3" y="372.4" font-size="20.2" fill="#1b8d9e" text-anchor="end" textLength="58.8" lengthAdjust="spacingAndGlyphs" >70959</text>
<text x="3655.6" y="372.4" font-size="20.2" fill="#000" text-anchor="start" textLength="40.2" lengthAdjust="spacingAndGlyphs" >量比</text>
<text x="3839.0" y="372.4" font-size="20.2" fill="#189018" text-anchor="end" textLength="40.9" lengthAdjust="spacingAndGlyphs" >0.82</text>
<text x="3466.6" y="420.8" font-size="20.2" fill="#000" text-anchor="start" textLength="40.2" lengthAdjust="spacingAndGlyphs" >总手</text>
<text x="3649.3" y="420.8" font-size="20.2" fill="#000" text-anchor="end" textLength="78.9" lengthAdjust="spacingAndGlyphs" >11001万</text>
<text x="3655.6" y="420.8" font-size="20.2" fill="#000" text-anchor="start" textLength="40.2" lengthAdjust="spacingAndGlyphs" >金额</text>
<text x="3839.0" y="420.8" font-size="20.2" fill="#1b8d9e" text-anchor="end" textLength="67.1" lengthAdjust="spacingAndGlyphs" >2279亿</text>
<rect x="3464.40" y="436.70" width="376.00" height="1.60" fill="#000" />
<text x="3466.6" y="462.8" font-size="20.2" fill="#000" text-anchor="start" textLength="60.3" lengthAdjust="spacingAndGlyphs" >总市值</text>
<text x="3839.0" y="462.8" font-size="20.2" fill="#1b8d9e" text-anchor="end" textLength="90.6" lengthAdjust="spacingAndGlyphs" >503746亿</text>
<text x="3466.6" y="494.9" font-size="20.2" fill="#000" text-anchor="start" textLength="80.4" lengthAdjust="spacingAndGlyphs" >流通市值</text>
<text x="3839.0" y="494.9" font-size="20.2" fill="#1b8d9e" text-anchor="end" textLength="90.6" lengthAdjust="spacingAndGlyphs" >392518亿</text>
<text x="3466.6" y="527.1" font-size="20.2" fill="#000" text-anchor="start" textLength="208.9" lengthAdjust="spacingAndGlyphs" >两市成交额(沪市+深市)</text>
<text x="3839.0" y="527.1" font-size="20.2" fill="#1b8d9e" text-anchor="end" textLength="67.1" lengthAdjust="spacingAndGlyphs" >9088亿</text>
<rect x="3464.40" y="533.00" width="376.00" height="2.20" fill="#000" />
<text x="3466.6" y="566.9" font-size="20.2" fill="#000" text-anchor="start" textLength="60.3" lengthAdjust="spacingAndGlyphs" >委卖量</text>
<text x="3649.3" y="566.9" font-size="20.2" fill="#189018" text-anchor="end" textLength="67.1" lengthAdjust="spacingAndGlyphs" >2981万</text>
<text x="3655.6" y="566.9" font-size="20.2" fill="#000" text-anchor="start" textLength="80.4" lengthAdjust="spacingAndGlyphs" >上涨家数</text>
<text x="3839.0" y="566.9" font-size="20.2" fill="#c2202a" text-anchor="end" textLength="35.3" lengthAdjust="spacingAndGlyphs" >109</text>
<text x="3466.6" y="611.2" font-size="20.2" fill="#000" text-anchor="start" textLength="60.3" lengthAdjust="spacingAndGlyphs" >委买量</text>
<text x="3649.3" y="611.2" font-size="20.2" fill="#c2202a" text-anchor="end" textLength="67.1" lengthAdjust="spacingAndGlyphs" >1387万</text>
<text x="3655.6" y="611.2" font-size="20.2" fill="#000" text-anchor="start" textLength="80.4" lengthAdjust="spacingAndGlyphs" >平盘家数</text>
<text x="3839.0" y="611.2" font-size="20.2" fill="#1b8d9e" text-anchor="end" textLength="23.5" lengthAdjust="spacingAndGlyphs" >12</text>
<text x="3466.6" y="655.6" font-size="20.2" fill="#000" text-anchor="start" textLength="60.3" lengthAdjust="spacingAndGlyphs" >卖金额</text>
<text x="3649.3" y="655.6" font-size="20.2" fill="#1b8d9e" text-anchor="end" textLength="72.8" lengthAdjust="spacingAndGlyphs" >39.00亿</text>
<text x="3655.6" y="655.6" font-size="20.2" fill="#000" text-anchor="start" textLength="80.4" lengthAdjust="spacingAndGlyphs" >下跌家数</text>
<text x="3839.0" y="655.6" font-size="20.2" fill="#189018" text-anchor="end" textLength="35.3" lengthAdjust="spacingAndGlyphs" >179</text>
<text x="3466.6" y="699.9" font-size="20.2" fill="#000" text-anchor="start" textLength="60.3" lengthAdjust="spacingAndGlyphs" >买金额</text>
<text x="3649.3" y="699.9" font-size="20.2" fill="#1b8d9e" text-anchor="end" textLength="72.8" lengthAdjust="spacingAndGlyphs" >40.70亿</text>
<text x="3655.6" y="699.9" font-size="20.2" fill="#000" text-anchor="start" textLength="40.2" lengthAdjust="spacingAndGlyphs" >市盈</text>
<text x="3839.0" y="699.9" font-size="20.2" fill="#000" text-anchor="end" textLength="52.7" lengthAdjust="spacingAndGlyphs" >15.09</text>
<text x="3466.6" y="744.2" font-size="20.2" fill="#000" text-anchor="start" textLength="40.2" lengthAdjust="spacingAndGlyphs" >换手</text>
<text x="3649.3" y="744.2" font-size="20.2" fill="#1b8d9e" text-anchor="end" textLength="59.3" lengthAdjust="spacingAndGlyphs" >0.39%</text>
<text x="3655.6" y="744.2" font-size="20.2" fill="#000" text-anchor="start" textLength="74.1" lengthAdjust="spacingAndGlyphs" >市盈(动)</text>
<text x="3839.0" y="744.2" font-size="20.2" fill="#000" text-anchor="end" textLength="52.7" lengthAdjust="spacingAndGlyphs" >12.56</text>
<text x="3466.6" y="788.1" font-size="20.2" fill="#000" text-anchor="start" textLength="40.2" lengthAdjust="spacingAndGlyphs" >均价</text>
<text x="3649.3" y="788.1" font-size="20.2" fill="#000" text-anchor="end" textLength="17.6" lengthAdjust="spacingAndGlyphs" >--</text>
<text x="3655.6" y="788.1" font-size="20.2" fill="#000" text-anchor="start" textLength="60.3" lengthAdjust="spacingAndGlyphs" >市净率</text>
<text x="3839.0" y="788.1" font-size="20.2" fill="#000" text-anchor="end" textLength="40.9" lengthAdjust="spacingAndGlyphs" >1.42</text>
<rect x="3653.00" y="534.00" width="1.80" height="269.00" fill="#000" />
<rect x="3464.40" y="802.50" width="376.00" height="1.60" fill="#000" />
<text x="3466.6" y="859.3" font-size="21.6" fill="#000" text-anchor="start" textLength="43.0" lengthAdjust="spacingAndGlyphs" >现价</text>
<text x="3649.3" y="859.4" font-size="21.8" fill="#c2202a" text-anchor="end" textLength="82.4" lengthAdjust="spacingAndGlyphs" >4630.35</text>
<text x="3839.0" y="859.4" font-size="21.8" fill="#000" text-anchor="end" textLength="150.0" lengthAdjust="spacingAndGlyphs" >2022-02-17,四</text>
<text x="3538.6" y="910.0" font-size="19" fill="#c2202a" text-anchor="end" textLength="42.5" lengthAdjust="spacingAndGlyphs" >4664</text>
<text x="3766.4" y="910.0" font-size="19" fill="#c2202a" text-anchor="start" textLength="54.0" lengthAdjust="spacingAndGlyphs" >1.00%</text>
<line x1="3541.40" y1="941.87" x2="3763.30" y2="941.87" stroke="#555" stroke-width="1.8" />
<text x="3538.6" y="948.9" font-size="19" fill="#c2202a" text-anchor="end" textLength="42.5" lengthAdjust="spacingAndGlyphs" >4659</text>
<text x="3766.4" y="948.9" font-size="19" fill="#c2202a" text-anchor="start" textLength="54.0" lengthAdjust="spacingAndGlyphs" >0.89%</text>
<line x1="3541.40" y1="980.74" x2="3763.30" y2="980.74" stroke="#555" stroke-width="1.8" />
<text x="3538.6" y="987.7" font-size="19" fill="#c2202a" text-anchor="end" textLength="42.5" lengthAdjust="spacingAndGlyphs" >4654</text>
<text x="3766.4" y="987.7" font-size="19" fill="#c2202a" text-anchor="start" textLength="54.0" lengthAdjust="spacingAndGlyphs" >0.78%</text>
<line x1="3541.40" y1="1019.62" x2="3763.30" y2="1019.62" stroke="#555" stroke-width="1.8" />
<text x="3538.6" y="1026.6" font-size="19" fill="#c2202a" text-anchor="end" textLength="42.5" lengthAdjust="spacingAndGlyphs" >4649</text>
<text x="3766.4" y="1026.6" font-size="19" fill="#c2202a" text-anchor="start" textLength="54.0" lengthAdjust="spacingAndGlyphs" >0.67%</text>
<line x1="3541.40" y1="1058.49" x2="3763.30" y2="1058.49" stroke="#555" stroke-width="1.8" />
<text x="3538.6" y="1065.5" font-size="19" fill="#c2202a" text-anchor="end" textLength="42.5" lengthAdjust="spacingAndGlyphs" >4644</text>
<text x="3766.4" y="1065.5" font-size="19" fill="#c2202a" text-anchor="start" textLength="54.0" lengthAdjust="spacingAndGlyphs" >0.56%</text>
<line x1="3541.40" y1="1097.36" x2="3763.30" y2="1097.36" stroke="#555" stroke-width="1.8" />
<text x="3538.6" y="1104.4" font-size="19" fill="#c2202a" text-anchor="end" textLength="42.5" lengthAdjust="spacingAndGlyphs" >4639</text>
<text x="3766.4" y="1104.4" font-size="19" fill="#c2202a" text-anchor="start" textLength="54.0" lengthAdjust="spacingAndGlyphs" >0.45%</text>
<line x1="3541.40" y1="1136.23" x2="3763.30" y2="1136.23" stroke="#555" stroke-width="1.8" />
<text x="3538.6" y="1143.2" font-size="19" fill="#c2202a" text-anchor="end" textLength="42.5" lengthAdjust="spacingAndGlyphs" >4634</text>
<text x="3766.4" y="1143.2" font-size="19" fill="#c2202a" text-anchor="start" textLength="54.0" lengthAdjust="spacingAndGlyphs" >0.34%</text>
<line x1="3541.40" y1="1175.11" x2="3763.30" y2="1175.11" stroke="#555" stroke-width="1.8" />
<text x="3538.6" y="1182.1" font-size="19" fill="#c2202a" text-anchor="end" textLength="42.5" lengthAdjust="spacingAndGlyphs" >4628</text>
<text x="3766.4" y="1182.1" font-size="19" fill="#c2202a" text-anchor="start" textLength="54.0" lengthAdjust="spacingAndGlyphs" >0.22%</text>
<line x1="3541.40" y1="1213.98" x2="3763.30" y2="1213.98" stroke="#555" stroke-width="1.8" />
<text x="3538.6" y="1221.0" font-size="19" fill="#c2202a" text-anchor="end" textLength="42.5" lengthAdjust="spacingAndGlyphs" >4623</text>
<text x="3766.4" y="1221.0" font-size="19" fill="#c2202a" text-anchor="start" textLength="54.0" lengthAdjust="spacingAndGlyphs" >0.11%</text>
<line x1="3541.40" y1="1252.85" x2="3763.30" y2="1252.85" stroke="#555" stroke-width="3.2" />
<text x="3538.6" y="1259.9" font-size="19" fill="#000" text-anchor="end" textLength="42.5" lengthAdjust="spacingAndGlyphs" >4618</text>
<text x="3766.4" y="1259.9" font-size="19" fill="#000" text-anchor="start" textLength="54.0" lengthAdjust="spacingAndGlyphs" >0.00%</text>
<line x1="3541.40" y1="1291.72" x2="3763.30" y2="1291.72" stroke="#555" stroke-width="1.8" />
<text x="3538.6" y="1298.7" font-size="19" fill="#189018" text-anchor="end" textLength="42.5" lengthAdjust="spacingAndGlyphs" >4613</text>
<text x="3766.4" y="1298.7" font-size="19" fill="#189018" text-anchor="start" textLength="54.0" lengthAdjust="spacingAndGlyphs" >0.10%</text>
<line x1="3541.40" y1="1330.59" x2="3763.30" y2="1330.59" stroke="#555" stroke-width="1.8" />
<text x="3538.6" y="1337.6" font-size="19" fill="#189018" text-anchor="end" textLength="42.5" lengthAdjust="spacingAndGlyphs" >4608</text>
<text x="3766.4" y="1337.6" font-size="19" fill="#189018" text-anchor="start" textLength="54.0" lengthAdjust="spacingAndGlyphs" >0.22%</text>
<line x1="3541.40" y1="1369.47" x2="3763.30" y2="1369.47" stroke="#555" stroke-width="1.8" />
<text x="3538.6" y="1376.5" font-size="19" fill="#189018" text-anchor="end" textLength="42.5" lengthAdjust="spacingAndGlyphs" >4603</text>
<text x="3766.4" y="1376.5" font-size="19" fill="#189018" text-anchor="start" textLength="54.0" lengthAdjust="spacingAndGlyphs" >0.33%</text>
<line x1="3541.40" y1="1408.34" x2="3763.30" y2="1408.34" stroke="#555" stroke-width="1.8" />
<text x="3538.6" y="1415.3" font-size="19" fill="#189018" text-anchor="end" textLength="42.5" lengthAdjust="spacingAndGlyphs" >4598</text>
<text x="3766.4" y="1415.3" font-size="19" fill="#189018" text-anchor="start" textLength="54.0" lengthAdjust="spacingAndGlyphs" >0.44%</text>
<line x1="3541.40" y1="1447.21" x2="3763.30" y2="1447.21" stroke="#555" stroke-width="1.8" />
<text x="3538.6" y="1454.2" font-size="19" fill="#189018" text-anchor="end" textLength="42.5" lengthAdjust="spacingAndGlyphs" >4593</text>
<text x="3766.4" y="1454.2" font-size="19" fill="#189018" text-anchor="start" textLength="54.0" lengthAdjust="spacingAndGlyphs" >0.55%</text>
<line x1="3541.40" y1="1486.08" x2="3763.30" y2="1486.08" stroke="#555" stroke-width="1.8" />
<text x="3538.6" y="1493.1" font-size="19" fill="#189018" text-anchor="end" textLength="42.5" lengthAdjust="spacingAndGlyphs" >4587</text>
<text x="3766.4" y="1493.1" font-size="19" fill="#189018" text-anchor="start" textLength="54.0" lengthAdjust="spacingAndGlyphs" >0.66%</text>
<line x1="3541.40" y1="1524.96" x2="3763.30" y2="1524.96" stroke="#555" stroke-width="1.8" />
<text x="3538.6" y="1532.0" font-size="19" fill="#189018" text-anchor="end" textLength="42.5" lengthAdjust="spacingAndGlyphs" >4582</text>
<text x="3766.4" y="1532.0" font-size="19" fill="#189018" text-anchor="start" textLength="54.0" lengthAdjust="spacingAndGlyphs" >0.77%</text>
<line x1="3541.40" y1="1563.83" x2="3763.30" y2="1563.83" stroke="#555" stroke-width="1.8" />
<text x="3538.6" y="1570.8" font-size="19" fill="#189018" text-anchor="end" textLength="42.5" lengthAdjust="spacingAndGlyphs" >4577</text>
<text x="3766.4" y="1570.8" font-size="19" fill="#189018" text-anchor="start" textLength="54.0" lengthAdjust="spacingAndGlyphs" >0.88%</text>
<text x="3538.6" y="1609.7" font-size="19" fill="#189018" text-anchor="end" textLength="42.5" lengthAdjust="spacingAndGlyphs" >4572</text>
<text x="3766.4" y="1609.7" font-size="19" fill="#189018" text-anchor="start" textLength="54.0" lengthAdjust="spacingAndGlyphs" >1.00%</text>
<line x1="3541.40" y1="1646.40" x2="3763.30" y2="1646.40" stroke="#555" stroke-width="1.8" />
<text x="3538.6" y="1653.4" font-size="19" fill="#1b8d9e" text-anchor="end" textLength="42.4" lengthAdjust="spacingAndGlyphs" >2874</text>
<line x1="3541.40" y1="1688.50" x2="3763.30" y2="1688.50" stroke="#555" stroke-width="1.8" />
<text x="3538.6" y="1695.5" font-size="19" fill="#1b8d9e" text-anchor="end" textLength="42.4" lengthAdjust="spacingAndGlyphs" >2395</text>
<line x1="3541.40" y1="1730.60" x2="3763.30" y2="1730.60" stroke="#555" stroke-width="1.8" />
<text x="3538.6" y="1737.6" font-size="19" fill="#1b8d9e" text-anchor="end" textLength="42.4" lengthAdjust="spacingAndGlyphs" >1916</text>
<line x1="3541.40" y1="1772.70" x2="3763.30" y2="1772.70" stroke="#555" stroke-width="1.8" />
<text x="3538.6" y="1779.7" font-size="19" fill="#1b8d9e" text-anchor="end" textLength="42.4" lengthAdjust="spacingAndGlyphs" >1437</text>
<line x1="3541.40" y1="1814.80" x2="3763.30" y2="1814.80" stroke="#555" stroke-width="1.8" />
<text x="3538.6" y="1821.8" font-size="19" fill="#1b8d9e" text-anchor="end" textLength="31.8" lengthAdjust="spacingAndGlyphs" >958</text>
<line x1="3541.40" y1="1856.90" x2="3763.30" y2="1856.90" stroke="#555" stroke-width="1.8" />
<text x="3538.6" y="1863.9" font-size="19" fill="#1b8d9e" text-anchor="end" textLength="31.8" lengthAdjust="spacingAndGlyphs" >479</text>
<line x1="3596.88" y1="903.00" x2="3596.88" y2="1898.50" stroke="#555" stroke-width="1.8" />
<line x1="3652.35" y1="903.00" x2="3652.35" y2="1898.50" stroke="#555" stroke-width="3.2" />
<line x1="3707.83" y1="903.00" x2="3707.83" y2="1898.50" stroke="#555" stroke-width="1.8" />
<line x1="3569.50" y1="903.00" x2="3569.50" y2="1898.50" stroke="#5a5a5a" stroke-width="1" stroke-dasharray="1 3.5" shape-rendering="crispEdges"/>
<line x1="3624.50" y1="903.00" x2="3624.50" y2="1898.50" stroke="#5a5a5a" stroke-width="1" stroke-dasharray="1 3.5" shape-rendering="crispEdges"/>
<line x1="3680.50" y1="903.00" x2="3680.50" y2="1898.50" stroke="#5a5a5a" stroke-width="1" stroke-dasharray="1 3.5" shape-rendering="crispEdges"/>
<line x1="3735.50" y1="903.00" x2="3735.50" y2="1898.50" stroke="#5a5a5a" stroke-width="1" stroke-dasharray="1 3.5" shape-rendering="crispEdges"/>
<g shape-rendering="crispEdges">
<rect x="3542.00" y="1749.63" width="1.00" height="148.87" fill="#1c921c" />
<rect x="3543.00" y="1791.30" width="1.00" height="107.20" fill="#1c921c" />
<rect x="3544.00" y="1799.10" width="1.00" height="99.40" fill="#1c921c" />
<rect x="3545.00" y="1785.35" width="1.00" height="113.15" fill="#1c921c" />
<rect x="3546.00" y="1801.19" width="1.00" height="97.31" fill="#1c921c" />
<rect x="3547.00" y="1812.29" width="1.00" height="86.21" fill="#b67a1e" />
<rect x="3548.00" y="1831.11" width="1.00" height="67.39" fill="#b67a1e" />
<rect x="3549.00" y="1827.69" width="1.00" height="70.81" fill="#b67a1e" />
<rect x="3550.00" y="1823.33" width="1.00" height="75.17" fill="#1c921c" />
<rect x="3551.00" y="1815.50" width="1.00" height="83.00" fill="#b67a1e" />
<rect x="3552.00" y="1828.80" width="1.00" height="69.70" fill="#b67a1e" />
<rect x="3553.00" y="1835.46" width="1.00" height="63.04" fill="#b67a1e" />
<rect x="3554.00" y="1852.05" width="1.00" height="46.45" fill="#1c921c" />
<rect x="3555.00" y="1851.23" width="1.00" height="47.27" fill="#1c921c" />
<rect x="3556.00" y="1844.38" width="1.00" height="54.12" fill="#b67a1e" />
<rect x="3557.00" y="1842.73" width="1.00" height="55.77" fill="#b67a1e" />
<rect x="3558.00" y="1838.44" width="1.00" height="60.06" fill="#b67a1e" />
<rect x="3559.00" y="1837.35" width="1.00" height="61.15" fill="#b67a1e" />
<rect x="3560.00" y="1831.26" width="1.00" height="67.24" fill="#b67a1e" />
<rect x="3561.00" y="1831.23" width="1.00" height="67.27" fill="#1c921c" />
<rect x="3562.00" y="1849.83" width="1.00" height="48.67" fill="#1c921c" />
<rect x="3563.00" y="1858.89" width="1.00" height="39.61" fill="#1c921c" />
<rect x="3564.00" y="1842.15" width="1.00" height="56.35" fill="#1c921c" />
<rect x="3565.00" y="1845.74" width="1.00" height="52.76" fill="#b67a1e" />
<rect x="3566.00" y="1832.68" width="1.00" height="65.82" fill="#b67a1e" />
<rect x="3567.00" y="1840.93" width="1.00" height="57.57" fill="#1c921c" />
<rect x="3568.00" y="1843.62" width="1.00" height="54.88" fill="#1c921c" />
<rect x="3569.00" y="1812.67" width="1.00" height="85.83" fill="#b67a1e" />
<rect x="3570.00" y="1818.36" width="1.00" height="80.14" fill="#b67a1e" />
<rect x="3571.00" y="1837.79" width="1.00" height="60.71" fill="#1c921c" />
<rect x="3572.00" y="1849.21" width="1.00" height="49.29" fill="#1c921c" />
<rect x="3573.00" y="1848.50" width="1.00" height="50.00" fill="#b67a1e" />
<rect x="3574.00" y="1847.93" width="1.00" height="50.57" fill="#b67a1e" />
<rect x="3575.00" y="1839.05" width="1.00" height="59.45" fill="#b67a1e" />
<rect x="3576.00" y="1838.28" width="1.00" height="60.22" fill="#b67a1e" />
<rect x="3577.00" y="1840.11" width="1.00" height="58.39" fill="#b67a1e" />
<rect x="3578.00" y="1841.61" width="1.00" height="56.89" fill="#1c921c" />
<rect x="3579.00" y="1839.99" width="1.00" height="58.51" fill="#1c921c" />
<rect x="3580.00" y="1844.84" width="1.00" height="53.66" fill="#b67a1e" />
<rect x="3581.00" y="1857.01" width="1.00" height="41.49" fill="#1c921c" />
<rect x="3582.00" y="1856.98" width="1.00" height="41.52" fill="#b67a1e" />
<rect x="3583.00" y="1863.41" width="1.00" height="35.09" fill="#b67a1e" />
<rect x="3584.00" y="1863.54" width="1.00" height="34.96" fill="#b67a1e" />
<rect x="3585.00" y="1857.39" width="1.00" height="41.11" fill="#b67a1e" />
<rect x="3586.00" y="1838.36" width="1.00" height="60.14" fill="#b67a1e" />
<rect x="3587.00" y="1839.93" width="1.00" height="58.57" fill="#b67a1e" />
<rect x="3588.00" y="1827.14" width="1.00" height="71.36" fill="#1c921c" />
<rect x="3589.00" y="1838.18" width="1.00" height="60.32" fill="#b67a1e" />
<rect x="3590.00" y="1841.35" width="1.00" height="57.15" fill="#b67a1e" />
<rect x="3591.00" y="1849.09" width="1.00" height="49.41" fill="#b67a1e" />
<rect x="3592.00" y="1840.79" width="1.00" height="57.71" fill="#b67a1e" />
<rect x="3593.00" y="1840.24" width="1.00" height="58.26" fill="#b67a1e" />
<rect x="3594.00" y="1850.80" width="1.00" height="47.70" fill="#1c921c" />
<rect x="3595.00" y="1850.40" width="1.00" height="48.10" fill="#b67a1e" />
<rect x="3596.00" y="1839.61" width="1.00" height="58.89" fill="#1c921c" />
<rect x="3597.00" y="1853.32" width="1.00" height="45.18" fill="#b67a1e" />
<rect x="3598.00" y="1856.31" width="1.00" height="42.19" fill="#b67a1e" />
<rect x="3599.00" y="1860.24" width="1.00" height="38.26" fill="#b67a1e" />
<rect x="3600.00" y="1853.83" width="1.00" height="44.67" fill="#b67a1e" />
<rect x="3601.00" y="1865.41" width="1.00" height="33.09" fill="#b67a1e" />
<rect x="3602.00" y="1862.81" width="1.00" height="35.69" fill="#1c921c" />
<rect x="3603.00" y="1864.31" width="1.00" height="34.19" fill="#1c921c" />
<rect x="3604.00" y="1860.15" width="1.00" height="38.35" fill="#b67a1e" />
<rect x="3605.00" y="1870.11" width="1.00" height="28.39" fill="#b67a1e" />
<rect x="3606.00" y="1865.75" width="1.00" height="32.75" fill="#b67a1e" />
<rect x="3607.00" y="1869.33" width="1.00" height="29.17" fill="#b67a1e" />
<rect x="3608.00" y="1863.69" width="1.00" height="34.81" fill="#b67a1e" />
<rect x="3609.00" y="1863.89" width="1.00" height="34.61" fill="#b67a1e" />
<rect x="3610.00" y="1860.94" width="1.00" height="37.56" fill="#1c921c" />
<rect x="3611.00" y="1858.22" width="1.00" height="40.28" fill="#1c921c" />
<rect x="3612.00" y="1851.13" width="1.00" height="47.37" fill="#1c921c" />
<rect x="3613.00" y="1866.26" width="1.00" height="32.24" fill="#b67a1e" />
<rect x="3614.00" y="1864.90" width="1.00" height="33.60" fill="#b67a1e" />
<rect x="3615.00" y="1872.05" width="1.00" height="26.45" fill="#b67a1e" />
<rect x="3616.00" y="1872.25" width="1.00" height="26.25" fill="#1c921c" />
<rect x="3617.00" y="1868.85" width="1.00" height="29.65" fill="#b67a1e" />
<rect x="3618.00" y="1873.37" width="1.00" height="25.13" fill="#b67a1e" />
<rect x="3619.00" y="1871.55" width="1.00" height="26.95" fill="#1c921c" />
<rect x="3620.00" y="1861.51" width="1.00" height="36.99" fill="#1c921c" />
<rect x="3621.00" y="1855.26" width="1.00" height="43.24" fill="#1c921c" />
<rect x="3622.00" y="1854.02" width="1.00" height="44.48" fill="#b67a1e" />
<rect x="3623.00" y="1850.72" width="1.00" height="47.78" fill="#1c921c" />
<rect x="3624.00" y="1852.12" width="1.00" height="46.38" fill="#1c921c" />
<rect x="3625.00" y="1853.88" width="1.00" height="44.62" fill="#1c921c" />
<rect x="3626.00" y="1864.14" width="1.00" height="34.36" fill="#1c921c" />
<rect x="3627.00" y="1863.85" width="1.00" height="34.65" fill="#b67a1e" />
<rect x="3628.00" y="1857.96" width="1.00" height="40.54" fill="#b67a1e" />
<rect x="3629.00" y="1851.75" width="1.00" height="46.75" fill="#b67a1e" />
<rect x="3630.00" y="1847.45" width="1.00" height="51.05" fill="#b67a1e" />
<rect x="3631.00" y="1857.52" width="1.00" height="40.98" fill="#1c921c" />
<rect x="3632.00" y="1855.63" width="1.00" height="42.87" fill="#b67a1e" />
<rect x="3633.00" y="1847.49" width="1.00" height="51.01" fill="#b67a1e" />
<rect x="3634.00" y="1854.90" width="1.00" height="43.60" fill="#1c921c" />
<rect x="3635.00" y="1855.26" width="1.00" height="43.24" fill="#b67a1e" />
<rect x="3636.00" y="1845.50" width="1.00" height="53.00" fill="#b67a1e" />
<rect x="3637.00" y="1860.18" width="1.00" height="38.32" fill="#b67a1e" />
<rect x="3638.00" y="1854.36" width="1.00" height="44.14" fill="#b67a1e" />
<rect x="3639.00" y="1858.93" width="1.00" height="39.57" fill="#b67a1e" />
<rect x="3640.00" y="1864.98" width="1.00" height="33.52" fill="#1c921c" />
<rect x="3641.00" y="1873.18" width="1.00" height="25.32" fill="#1c921c" />
<rect x="3642.00" y="1875.03" width="1.00" height="23.47" fill="#b67a1e" />
<rect x="3643.00" y="1867.28" width="1.00" height="31.22" fill="#b67a1e" />
<rect x="3644.00" y="1873.20" width="1.00" height="25.30" fill="#b67a1e" />
<rect x="3645.00" y="1868.55" width="1.00" height="29.95" fill="#b67a1e" />
<rect x="3646.00" y="1872.18" width="1.00" height="26.32" fill="#1c921c" />
<rect x="3647.00" y="1869.93" width="1.00" height="28.57" fill="#1c921c" />
<rect x="3648.00" y="1871.54" width="1.00" height="26.96" fill="#1c921c" />
<rect x="3649.00" y="1870.12" width="1.00" height="28.38" fill="#b67a1e" />
<rect x="3650.00" y="1872.77" width="1.00" height="25.73" fill="#1c921c" />
<rect x="3651.00" y="1773.10" width="1.00" height="125.40" fill="#1c921c" />
<rect x="3652.00" y="1603.96" width="1.00" height="294.54" fill="#1c921c" />
<rect x="3653.00" y="1696.45" width="1.00" height="202.05" fill="#1c921c" />
<rect x="3654.00" y="1824.78" width="1.00" height="73.72" fill="#b67a1e" />
<rect x="3655.00" y="1838.03" width="1.00" height="60.47" fill="#b67a1e" />
<rect x="3656.00" y="1852.67" width="1.00" height="45.83" fill="#1c921c" />
<rect x="3657.00" y="1841.91" width="1.00" height="56.59" fill="#b67a1e" />
<rect x="3658.00" y="1843.86" width="1.00" height="54.64" fill="#b67a1e" />
<rect x="3659.00" y="1848.94" width="1.00" height="49.56" fill="#1c921c" />
<rect x="3660.00" y="1839.05" width="1.00" height="59.45" fill="#1c921c" />
<rect x="3661.00" y="1847.90" width="1.00" height="50.60" fill="#b67a1e" />
<rect x="3662.00" y="1845.13" width="1.00" height="53.37" fill="#b67a1e" />
<rect x="3663.00" y="1847.60" width="1.00" height="50.90" fill="#1c921c" />
<rect x="3664.00" y="1864.02" width="1.00" height="34.48" fill="#b67a1e" />
<rect x="3665.00" y="1863.53" width="1.00" height="34.97" fill="#b67a1e" />
<rect x="3666.00" y="1863.35" width="1.00" height="35.15" fill="#1c921c" />
<rect x="3667.00" y="1866.45" width="1.00" height="32.05" fill="#1c921c" />
<rect x="3668.00" y="1869.10" width="1.00" height="29.40" fill="#1c921c" />
<rect x="3669.00" y="1864.51" width="1.00" height="33.99" fill="#1c921c" />
<rect x="3670.00" y="1866.65" width="1.00" height="31.85" fill="#b67a1e" />
<rect x="3671.00" y="1866.57" width="1.00" height="31.93" fill="#1c921c" />
<rect x="3672.00" y="1862.94" width="1.00" height="35.56" fill="#1c921c" />
<rect x="3673.00" y="1860.47" width="1.00" height="38.03" fill="#b67a1e" />
<rect x="3674.00" y="1864.68" width="1.00" height="33.82" fill="#1c921c" />
<rect x="3675.00" y="1866.22" width="1.00" height="32.28" fill="#b67a1e" />
<rect x="3676.00" y="1869.48" width="1.00" height="29.02" fill="#b67a1e" />
<rect x="3677.00" y="1874.09" width="1.00" height="24.41" fill="#b67a1e" />
<rect x="3678.00" y="1877.16" width="1.00" height="21.34" fill="#b67a1e" />
<rect x="3679.00" y="1866.33" width="1.00" height="32.17" fill="#b67a1e" />
<rect x="3680.00" y="1859.67" width="1.00" height="38.83" fill="#1c921c" />
<rect x="3681.00" y="1853.71" width="1.00" height="44.79" fill="#b67a1e" />
<rect x="3682.00" y="1862.14" width="1.00" height="36.36" fill="#b67a1e" />
<rect x="3683.00" y="1873.94" width="1.00" height="24.56" fill="#b67a1e" />
<rect x="3684.00" y="1872.70" width="1.00" height="25.80" fill="#b67a1e" />
<rect x="3685.00" y="1873.68" width="1.00" height="24.82" fill="#b67a1e" />
<rect x="3686.00" y="1872.62" width="1.00" height="25.88" fill="#1c921c" />
<rect x="3687.00" y="1859.87" width="1.00" height="38.63" fill="#1c921c" />
<rect x="3688.00" y="1854.99" width="1.00" height="43.51" fill="#b67a1e" />
<rect x="3689.00" y="1848.76" width="1.00" height="49.74" fill="#b67a1e" />
<rect x="3690.00" y="1861.53" width="1.00" height="36.97" fill="#b67a1e" />
<rect x="3691.00" y="1858.81" width="1.00" height="39.69" fill="#1c921c" />
<rect x="3692.00" y="1861.24" width="1.00" height="37.26" fill="#b67a1e" />
<rect x="3693.00" y="1867.31" width="1.00" height="31.19" fill="#b67a1e" />
<rect x="3694.00" y="1873.76" width="1.00" height="24.74" fill="#b67a1e" />
<rect x="3695.00" y="1875.87" width="1.00" height="22.63" fill="#1c921c" />
<rect x="3696.00" y="1874.21" width="1.00" height="24.29" fill="#b67a1e" />
<rect x="3697.00" y="1874.49" width="1.00" height="24.01" fill="#b67a1e" />
<rect x="3698.00" y="1877.53" width="1.00" height="20.97" fill="#1c921c" />
<rect x="3699.00" y="1872.49" width="1.00" height="26.01" fill="#1c921c" />
<rect x="3700.00" y="1868.18" width="1.00" height="30.32" fill="#b67a1e" />
<rect x="3701.00" y="1864.90" width="1.00" height="33.60" fill="#b67a1e" />
<rect x="3702.00" y="1861.14" width="1.00" height="37.36" fill="#b67a1e" />
<rect x="3703.00" y="1874.04" width="1.00" height="24.46" fill="#1c921c" />
<rect x="3704.00" y="1879.13" width="1.00" height="19.37" fill="#1c921c" />
<rect x="3705.00" y="1874.81" width="1.00" height="23.69" fill="#1c921c" />
<rect x="3706.00" y="1873.13" width="1.00" height="25.37" fill="#b67a1e" />
<rect x="3707.00" y="1866.24" width="1.00" height="32.26" fill="#b67a1e" />
<rect x="3708.00" y="1871.64" width="1.00" height="26.86" fill="#1c921c" />
<rect x="3709.00" y="1865.78" width="1.00" height="32.72" fill="#1c921c" />
<rect x="3710.00" y="1870.61" width="1.00" height="27.89" fill="#1c921c" />
<rect x="3711.00" y="1870.40" width="1.00" height="28.10" fill="#b67a1e" />
<rect x="3712.00" y="1871.37" width="1.00" height="27.13" fill="#b67a1e" />
<rect x="3713.00" y="1856.17" width="1.00" height="42.33" fill="#1c921c" />
<rect x="3714.00" y="1856.14" width="1.00" height="42.36" fill="#b67a1e" />
<rect x="3715.00" y="1855.52" width="1.00" height="42.98" fill="#b67a1e" />
<rect x="3716.00" y="1862.84" width="1.00" height="35.66" fill="#b67a1e" />
<rect x="3717.00" y="1869.26" width="1.00" height="29.24" fill="#b67a1e" />
<rect x="3718.00" y="1867.14" width="1.00" height="31.36" fill="#b67a1e" />
<rect x="3719.00" y="1872.22" width="1.00" height="26.28" fill="#b67a1e" />
<rect x="3720.00" y="1869.17" width="1.00" height="29.33" fill="#1c921c" />
<rect x="3721.00" y="1869.46" width="1.00" height="29.04" fill="#b67a1e" />
<rect x="3722.00" y="1868.86" width="1.00" height="29.64" fill="#b67a1e" />
<rect x="3723.00" y="1868.98" width="1.00" height="29.52" fill="#b67a1e" />
<rect x="3724.00" y="1870.31" width="1.00" height="28.19" fill="#b67a1e" />
<rect x="3725.00" y="1873.00" width="1.00" height="25.50" fill="#b67a1e" />
<rect x="3726.00" y="1865.26" width="1.00" height="33.24" fill="#b67a1e" />
<rect x="3727.00" y="1862.50" width="1.00" height="36.00" fill="#1c921c" />
<rect x="3728.00" y="1859.55" width="1.00" height="38.95" fill="#b67a1e" />
<rect x="3729.00" y="1852.49" width="1.00" height="46.01" fill="#b67a1e" />
<rect x="3730.00" y="1858.54" width="1.00" height="39.96" fill="#1c921c" />
<rect x="3731.00" y="1872.43" width="1.00" height="26.07" fill="#1c921c" />
<rect x="3732.00" y="1868.48" width="1.00" height="30.02" fill="#1c921c" />
<rect x="3733.00" y="1867.07" width="1.00" height="31.43" fill="#1c921c" />
<rect x="3734.00" y="1871.41" width="1.00" height="27.09" fill="#b67a1e" />
<rect x="3735.00" y="1867.49" width="1.00" height="31.01" fill="#b67a1e" />
<rect x="3736.00" y="1867.56" width="1.00" height="30.94" fill="#b67a1e" />
<rect x="3737.00" y="1866.12" width="1.00" height="32.38" fill="#1c921c" />
<rect x="3738.00" y="1865.76" width="1.00" height="32.74" fill="#1c921c" />
<rect x="3739.00" y="1860.62" width="1.00" height="37.88" fill="#1c921c" />
<rect x="3740.00" y="1854.51" width="1.00" height="43.99" fill="#1c921c" />
<rect x="3741.00" y="1852.32" width="1.00" height="46.18" fill="#b67a1e" />
<rect x="3742.00" y="1858.46" width="1.00" height="40.04" fill="#b67a1e" />
<rect x="3743.00" y="1864.22" width="1.00" height="34.28" fill="#b67a1e" />
<rect x="3744.00" y="1865.46" width="1.00" height="33.04" fill="#b67a1e" />
<rect x="3745.00" y="1855.25" width="1.00" height="43.25" fill="#1c921c" />
<rect x="3746.00" y="1858.00" width="1.00" height="40.50" fill="#b67a1e" />
<rect x="3747.00" y="1859.65" width="1.00" height="38.85" fill="#b67a1e" />
<rect x="3748.00" y="1861.05" width="1.00" height="37.45" fill="#1c921c" />
<rect x="3749.00" y="1861.83" width="1.00" height="36.67" fill="#1c921c" />
<rect x="3750.00" y="1857.12" width="1.00" height="41.38" fill="#1c921c" />
<rect x="3751.00" y="1850.56" width="1.00" height="47.94" fill="#b67a1e" />
<rect x="3752.00" y="1844.46" width="1.00" height="54.04" fill="#1c921c" />
<rect x="3753.00" y="1852.01" width="1.00" height="46.49" fill="#1c921c" />
<rect x="3754.00" y="1852.72" width="1.00" height="45.78" fill="#b67a1e" />
<rect x="3755.00" y="1837.56" width="1.00" height="60.94" fill="#1c921c" />
<rect x="3756.00" y="1845.79" width="1.00" height="52.71" fill="#b67a1e" />
<rect x="3757.00" y="1843.31" width="1.00" height="55.19" fill="#b67a1e" />
<rect x="3758.00" y="1840.66" width="1.00" height="57.84" fill="#b67a1e" />
<rect x="3759.00" y="1844.76" width="1.00" height="53.74" fill="#1c921c" />
<rect x="3760.00" y="1830.86" width="1.00" height="67.64" fill="#1c921c" />
<rect x="3761.00" y="1782.53" width="1.00" height="115.97" fill="#1c921c" />
<rect x="3762.00" y="1767.99" width="1.00" height="130.51" fill="#1c921c" />
</g>
<polyline points="3541.0,1260.5 3542.3,1290.2 3544.5,1249.7 3545.8,1309.2 3547.7,1330.8 3549.1,1314.6 3550.4,1274.0 3552.0,1256.4 3553.4,1268.6 3554.5,1260.5 3556.1,1290.2 3557.7,1276.7 3559.3,1287.5 3561.2,1305.1 3562.9,1284.8 3564.2,1287.5 3565.6,1274.0 3567.5,1256.4 3568.5,1233.4 3569.6,1206.4 3570.7,1163.1 3572.3,1152.3 3574.0,1137.4 3575.0,1163.1 3576.4,1168.5 3577.7,1182.0 3579.4,1190.2 3580.4,1157.7 3582.1,1137.4 3583.1,1163.1 3584.8,1141.5 3586.4,1133.4 3588.0,1152.3 3589.4,1144.2 3591.0,1144.2 3592.1,1163.1 3593.4,1184.8 3595.0,1201.0 3596.1,1206.4 3597.5,1195.6 3598.8,1168.5 3600.5,1146.9 3601.8,1125.2 3603.4,1113.1 3604.8,1130.7 3606.1,1122.5 3607.5,1130.7 3608.8,1144.2 3610.2,1155.0 3611.5,1138.8 3613.4,1141.5 3615.1,1159.1 3616.1,1141.5 3617.5,1117.1 3618.9,1106.3 3620.5,1098.2 3622.1,1087.4 3623.5,1071.1 3624.8,1053.6 3626.2,1057.6 3627.5,1076.6 3628.9,1060.3 3629.9,1076.6 3631.3,1060.3 3632.9,1061.7 3634.3,1044.1 3635.4,1030.6 3636.4,1011.6 3637.8,1017.0 3639.1,1027.9 3640.5,1040.0 3641.6,1025.2 3642.9,1030.6 3644.3,1022.5 3645.9,1010.3 3647.3,1022.5 3648.6,1015.7 3650.0,1025.2 3651.3,1036.0 3651.8,1044.1 3652.3,1098.2 3652.6,1198.3 3653.9,1163.1 3655.0,1127.9 3656.4,1141.5 3657.7,1165.8 3658.5,1206.4 3659.9,1206.4 3660.7,1176.6 3661.8,1152.3 3663.1,1117.1 3664.5,1113.1 3666.1,1106.3 3667.7,1109.0 3669.3,1117.1 3670.7,1136.1 3672.0,1155.0 3673.4,1168.5 3675.3,1163.1 3676.9,1146.9 3678.3,1160.4 3679.6,1144.2 3681.0,1125.2 3681.8,1109.0 3682.9,1125.2 3684.5,1114.4 3686.1,1113.1 3687.7,1106.3 3689.4,1087.4 3691.0,1076.6 3692.6,1068.4 3693.7,1064.4 3695.3,1068.4 3696.9,1082.0 3698.6,1084.7 3700.2,1079.3 3701.3,1092.8 3702.6,1109.0 3703.7,1119.8 3705.0,1098.2 3706.4,1114.4 3707.8,1098.2 3709.4,1091.4 3711.0,1098.2 3712.1,1117.1 3713.2,1136.1 3714.8,1149.6 3716.4,1155.0 3718.0,1165.8 3719.7,1173.9 3721.3,1179.3 3722.9,1168.5 3724.5,1163.1 3726.1,1152.3 3727.5,1145.5 3728.9,1149.6 3730.2,1152.3 3731.6,1149.6 3732.9,1155.0 3734.3,1168.5 3735.6,1152.3 3737.0,1146.9 3738.6,1148.2 3739.7,1157.7 3741.0,1173.9 3742.4,1201.0 3743.7,1190.2 3745.1,1168.5 3746.7,1160.4 3748.1,1159.1 3749.4,1173.9 3750.8,1198.3 3752.1,1184.8 3753.7,1176.6 3755.4,1179.3 3757.0,1173.9 3758.6,1169.9 3760.2,1167.2 3761.9,1164.5 3763.2,1163.1" fill="none" stroke="#18808c" stroke-width="3" stroke-linejoin="round"/>
<rect x="3540.40" y="902.00" width="2.20" height="996.50" fill="#000" />
<rect x="3540.40" y="902.00" width="223.90" height="2.20" fill="#000" />
<rect x="3762.30" y="902.00" width="2.20" height="700.70" fill="#000" />
<rect x="3762.30" y="1602.70" width="2.20" height="295.80" fill="#666" />
<rect x="3541.40" y="1601.70" width="221.90" height="2.20" fill="#000" />
<rect x="3539.80" y="1840.70" width="2.20" height="58.00" fill="#1e9cb4" />
<rect x="3481.6" y="1875.6" width="58" height="22.6" fill="#fff" stroke="#777" stroke-width="1.6"/>
<text x="3484.0" y="1894.3" font-size="19" fill="#1b8d9e" text-anchor="start" textLength="54.0" lengthAdjust="spacingAndGlyphs" >X1000</text>
<rect x="3464.40" y="1899.00" width="376.00" height="2.40" fill="#000" />
<rect x="3465.50" y="1901.00" width="57.20" height="28.00" fill="#000" />
<text x="3494.0" y="1922.8" font-size="19" fill="#fff" text-anchor="middle" textLength="38.0" lengthAdjust="spacingAndGlyphs" >分时</text>
<rect x="3522.70" y="1901.00" width="2.00" height="28.00" fill="#666" />
<rect x="3581.00" y="1901.00" width="2.00" height="28.00" fill="#666" />
<rect x="3639.70" y="1901.00" width="2.00" height="28.00" fill="#666" />
<text x="3552.8" y="1922.8" font-size="19" fill="#000" text-anchor="middle" textLength="38.0" lengthAdjust="spacingAndGlyphs" >筹码</text>
<text x="3611.3" y="1922.8" font-size="19" fill="#000" text-anchor="middle" textLength="38.0" lengthAdjust="spacingAndGlyphs" >火焰</text>
</svg></body></html>
